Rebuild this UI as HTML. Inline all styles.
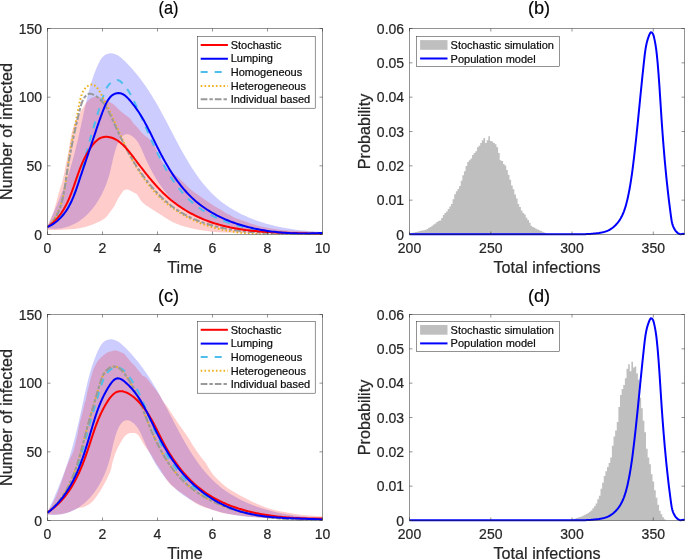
<!DOCTYPE html>
<html><head><meta charset="utf-8"><style>html,body{margin:0;padding:0;background:#fff;overflow:hidden;}svg{display:block;will-change:transform;}</style></head>
<body><svg width="685" height="559" viewBox="0 0 685 559">
<rect width="685" height="559" fill="#fff"/>
<style>text{stroke:#262626;stroke-width:0.22px;}</style>
<defs><clipPath id="ca"><rect x="47.50" y="28.50" width="275.00" height="206.00"/></clipPath>
<clipPath id="cc"><rect x="47.50" y="314.50" width="275.00" height="206.00"/></clipPath></defs>
<g clip-path="url(#ca)">
<path d="M47.58,226.05 L48.43,224.21 L49.28,222.37 L50.11,220.53 L50.95,218.68 L51.77,216.84 L52.59,214.99 L53.41,213.13 L54.22,211.28 L55.02,209.42 L55.81,207.56 L56.60,205.70 L57.38,203.84 L58.16,201.97 L58.92,200.10 L59.68,198.22 L60.42,196.35 L61.16,194.47 L61.89,192.58 L62.61,190.70 L63.32,188.81 L64.03,186.91 L64.72,185.02 L65.40,183.12 L66.07,181.21 L66.73,179.31 L67.38,177.40 L68.01,175.48 L68.64,173.56 L69.25,171.64 L69.85,169.71 L70.44,167.78 L71.02,165.85 L71.59,163.91 L72.14,161.97 L72.68,160.03 L73.22,158.08 L73.74,156.13 L74.25,154.17 L74.76,152.22 L75.25,150.26 L75.74,148.30 L76.22,146.33 L76.70,144.37 L77.17,142.40 L77.63,140.43 L78.09,138.46 L78.54,136.49 L78.99,134.52 L79.43,132.54 L79.87,130.57 L80.31,128.59 L80.74,126.62 L81.17,124.64 L81.60,122.67 L82.03,120.69 L82.46,118.71 L82.89,116.74 L83.32,114.76 L83.75,112.79 L84.19,110.82 L84.62,108.85 L85.06,106.88 L85.50,104.91 L85.94,102.94 L86.40,100.97 L86.86,99.01 L87.33,97.05 L87.81,95.09 L88.30,93.14 L88.81,91.19 L89.33,89.24 L89.87,87.29 L90.43,85.35 L91.00,83.41 L91.60,81.48 L92.22,79.55 L92.86,77.63 L93.53,75.71 L94.23,73.79 L94.95,71.88 L95.70,69.98 L96.49,68.08 L97.30,66.19 L98.15,64.31 L99.04,62.43 L100.01,60.62 L101.08,58.90 L102.29,57.34 L103.69,55.97 L105.30,54.84 L107.13,54.00 L109.07,53.48 L111.02,53.29 L112.90,53.45 L114.71,53.92 L116.46,54.66 L118.15,55.62 L119.79,56.76 L121.38,58.04 L122.93,59.43 L124.45,60.87 L125.94,62.33 L127.41,63.81 L128.84,65.30 L130.25,66.81 L131.64,68.33 L133.00,69.86 L134.34,71.41 L135.65,72.96 L136.95,74.54 L138.22,76.12 L139.47,77.72 L140.70,79.32 L141.91,80.94 L143.10,82.57 L144.27,84.21 L145.42,85.86 L146.56,87.52 L147.68,89.19 L148.79,90.87 L149.88,92.56 L150.96,94.25 L152.02,95.96 L153.07,97.67 L154.11,99.39 L155.14,101.12 L156.15,102.85 L157.16,104.60 L158.15,106.34 L159.14,108.10 L160.12,109.86 L161.09,111.63 L162.06,113.40 L163.02,115.17 L163.97,116.95 L164.92,118.73 L165.86,120.52 L166.80,122.31 L167.74,124.10 L168.68,125.89 L169.61,127.69 L170.55,129.49 L171.48,131.28 L172.42,133.08 L173.35,134.88 L174.29,136.67 L175.23,138.47 L176.18,140.26 L177.12,142.05 L178.08,143.84 L179.04,145.63 L180.00,147.41 L180.97,149.19 L181.95,150.96 L182.94,152.73 L183.93,154.50 L184.94,156.26 L185.95,158.01 L186.98,159.76 L188.01,161.50 L189.06,163.24 L190.13,164.96 L191.20,166.68 L192.29,168.39 L193.40,170.09 L194.52,171.78 L195.66,173.46 L196.81,175.12 L197.98,176.77 L199.17,178.41 L200.38,180.03 L201.61,181.63 L202.86,183.21 L204.13,184.78 L205.42,186.32 L206.74,187.84 L208.08,189.34 L209.44,190.82 L210.83,192.27 L212.24,193.70 L213.68,195.10 L215.15,196.47 L216.64,197.81 L218.17,199.12 L219.72,200.41 L221.29,201.66 L222.90,202.88 L224.53,204.07 L226.18,205.23 L227.86,206.37 L229.55,207.47 L231.27,208.54 L233.01,209.59 L234.77,210.60 L236.55,211.59 L238.34,212.55 L240.15,213.48 L241.98,214.39 L243.82,215.27 L245.67,216.12 L247.53,216.94 L249.41,217.73 L251.30,218.50 L253.19,219.25 L255.09,219.96 L257.00,220.65 L258.92,221.32 L260.84,221.96 L262.77,222.57 L264.70,223.16 L266.64,223.73 L268.58,224.27 L270.53,224.79 L272.49,225.29 L274.44,225.76 L276.41,226.22 L278.37,226.65 L280.34,227.06 L282.32,227.46 L284.30,227.83 L286.28,228.18 L288.27,228.52 L290.26,228.84 L292.26,229.14 L294.25,229.42 L296.26,229.69 L298.26,229.94 L300.27,230.18 L302.28,230.40 L304.29,230.61 L306.31,230.80 L308.33,230.98 L310.35,231.14 L312.38,231.30 L314.40,231.44 L316.43,231.57 L318.46,231.69 L320.49,231.80 L322.53,231.90 L322.50,233.72 L320.93,233.58 L319.36,233.45 L317.80,233.32 L316.23,233.21 L314.66,233.11 L313.09,233.01 L311.52,232.92 L309.95,232.84 L308.37,232.77 L306.80,232.70 L305.23,232.64 L303.65,232.59 L302.08,232.54 L300.50,232.49 L298.92,232.45 L297.35,232.42 L295.77,232.38 L294.19,232.35 L292.62,232.33 L291.04,232.30 L289.46,232.28 L287.88,232.25 L286.31,232.23 L284.73,232.21 L283.15,232.19 L281.58,232.17 L280.00,232.14 L278.42,232.12 L276.84,232.09 L275.27,232.06 L273.69,232.03 L272.12,232.00 L270.54,231.96 L268.97,231.92 L267.40,231.87 L265.82,231.82 L264.25,231.76 L262.68,231.70 L261.11,231.63 L259.54,231.55 L257.97,231.47 L256.40,231.37 L254.84,231.27 L253.27,231.17 L251.71,231.05 L250.14,230.92 L248.58,230.79 L247.02,230.64 L245.46,230.48 L243.90,230.31 L242.35,230.13 L240.79,229.94 L239.24,229.73 L237.69,229.51 L236.14,229.28 L234.59,229.04 L233.05,228.77 L231.50,228.50 L229.96,228.21 L228.42,227.90 L226.88,227.58 L225.34,227.24 L223.81,226.89 L222.28,226.51 L220.75,226.12 L219.22,225.71 L217.70,225.28 L216.17,224.84 L214.66,224.37 L213.14,223.89 L211.63,223.38 L210.13,222.86 L208.63,222.31 L207.14,221.75 L205.66,221.17 L204.18,220.57 L202.71,219.95 L201.26,219.31 L199.81,218.65 L198.37,217.98 L196.95,217.28 L195.53,216.56 L194.13,215.82 L192.74,215.07 L191.37,214.29 L190.01,213.49 L188.67,212.68 L187.34,211.84 L186.02,210.98 L184.73,210.11 L183.45,209.21 L182.19,208.29 L180.95,207.36 L179.73,206.40 L178.53,205.42 L177.35,204.43 L176.18,203.41 L175.04,202.37 L173.92,201.32 L172.81,200.24 L171.72,199.15 L170.65,198.04 L169.60,196.92 L168.56,195.77 L167.54,194.61 L166.54,193.44 L165.55,192.24 L164.58,191.04 L163.63,189.81 L162.69,188.57 L161.77,187.32 L160.86,186.05 L159.97,184.77 L159.09,183.47 L158.23,182.16 L157.38,180.84 L156.54,179.50 L155.72,178.16 L154.91,176.80 L154.11,175.43 L153.32,174.04 L152.55,172.65 L151.79,171.25 L151.04,169.83 L150.30,168.41 L149.58,166.98 L148.86,165.53 L148.16,164.08 L147.46,162.62 L146.78,161.15 L146.10,159.67 L145.44,158.19 L144.78,156.70 L144.14,155.20 L143.50,153.69 L142.86,152.19 L142.21,150.70 L141.56,149.22 L140.88,147.76 L140.19,146.34 L139.46,144.95 L138.70,143.60 L137.89,142.30 L137.03,141.06 L136.12,139.88 L135.14,138.78 L134.10,137.75 L132.98,136.81 L131.78,135.96 L130.49,135.21 L129.13,134.60 L127.75,134.22 L126.42,134.17 L125.15,134.46 L123.96,135.03 L122.85,135.81 L121.82,136.79 L120.86,137.93 L119.97,139.22 L119.14,140.62 L118.38,142.13 L117.68,143.72 L117.02,145.36 L116.42,147.03 L115.86,148.71 L115.34,150.37 L114.85,152.01 L114.40,153.63 L113.97,155.22 L113.57,156.79 L113.19,158.34 L112.83,159.87 L112.48,161.39 L112.14,162.90 L111.81,164.39 L111.48,165.87 L111.15,167.35 L110.81,168.82 L110.47,170.28 L110.11,171.75 L109.74,173.21 L109.34,174.68 L108.93,176.15 L108.49,177.62 L108.02,179.10 L107.53,180.57 L107.02,182.05 L106.48,183.53 L105.92,185.00 L105.33,186.47 L104.72,187.93 L104.09,189.39 L103.43,190.84 L102.74,192.29 L102.03,193.72 L101.30,195.14 L100.54,196.55 L99.76,197.95 L98.96,199.33 L98.13,200.69 L97.27,202.04 L96.40,203.37 L95.49,204.68 L94.57,205.97 L93.62,207.24 L92.64,208.48 L91.65,209.70 L90.62,210.89 L89.58,212.06 L88.51,213.20 L87.41,214.31 L86.29,215.39 L85.15,216.43 L83.99,217.45 L82.80,218.42 L81.58,219.37 L80.34,220.27 L79.08,221.14 L77.80,221.97 L76.49,222.76 L75.15,223.51 L73.80,224.21 L72.42,224.87 L71.01,225.48 L69.58,226.05 L68.13,226.57 L66.66,227.04 L65.16,227.46 L63.64,227.83 L62.09,228.14 L60.52,228.41 L58.93,228.61 L57.31,228.76 L55.67,228.85 L54.00,228.89 L52.32,228.86 L50.61,228.77 L48.87,228.62 L47.11,228.41 Z" fill="#0000ff" fill-opacity="0.200" stroke="none"/>
<path d="M47.50,226.00 C47.87,225.18 48.58,223.85 49.70,221.10 C50.82,218.35 52.72,214.12 54.20,209.50 C55.68,204.88 57.18,198.32 58.60,193.40 C60.02,188.48 61.50,184.73 62.70,180.00 C63.90,175.27 65.02,168.83 65.80,165.00 C66.58,161.17 66.88,159.68 67.40,157.00 C67.92,154.32 68.42,151.73 68.90,148.90 C69.38,146.07 69.70,143.15 70.30,140.00 C70.90,136.85 71.63,133.17 72.50,130.00 C73.37,126.83 74.50,123.42 75.50,121.00 C76.50,118.58 77.72,116.92 78.50,115.50 C79.28,114.08 79.43,113.82 80.20,112.50 C80.97,111.18 82.00,109.35 83.10,107.60 C84.20,105.85 85.57,103.52 86.80,102.00 C88.03,100.48 89.28,99.35 90.50,98.50 C91.72,97.65 92.85,97.18 94.10,96.90 C95.35,96.62 97.02,96.75 98.00,96.80 C98.98,96.85 98.95,96.78 100.00,97.20 C101.05,97.62 102.87,98.58 104.30,99.30 C105.73,100.02 106.93,100.55 108.60,101.50 C110.27,102.45 112.63,103.70 114.30,105.00 C115.97,106.30 117.17,107.98 118.60,109.30 C120.03,110.62 121.58,111.82 122.90,112.90 C124.22,113.98 125.30,114.85 126.50,115.80 C127.70,116.75 128.92,117.30 130.10,118.60 C131.28,119.90 132.42,122.17 133.60,123.60 C134.78,125.03 136.02,125.88 137.20,127.20 C138.38,128.52 139.40,130.07 140.70,131.50 C142.00,132.93 143.68,134.62 145.00,135.80 C146.32,136.98 147.40,137.53 148.60,138.60 C149.80,139.67 151.13,140.77 152.20,142.20 C153.27,143.63 154.28,145.90 155.00,147.20 C155.72,148.50 155.67,148.20 156.50,150.00 C157.33,151.80 158.58,155.33 160.00,158.00 C161.42,160.67 163.33,163.83 165.00,166.00 C166.67,168.17 167.97,169.27 170.00,171.00 C172.03,172.73 174.87,174.40 177.20,176.40 C179.53,178.40 181.87,180.92 184.00,183.00 C186.13,185.08 187.80,187.02 190.00,188.90 C192.20,190.78 194.82,192.57 197.20,194.30 C199.58,196.03 201.92,197.63 204.30,199.30 C206.68,200.97 209.12,202.75 211.50,204.30 C213.88,205.85 216.22,207.17 218.60,208.60 C220.98,210.03 223.90,211.83 225.80,212.90 C227.70,213.97 228.42,214.13 230.00,215.00 C231.58,215.87 233.20,217.17 235.30,218.10 C237.40,219.03 240.17,219.75 242.60,220.60 C245.03,221.45 247.47,222.40 249.90,223.20 C252.33,224.00 254.77,224.73 257.20,225.40 C259.63,226.07 261.03,226.53 264.50,227.20 C267.97,227.87 273.75,228.83 278.00,229.40 C282.25,229.97 285.50,230.23 290.00,230.60 C294.50,230.97 299.58,231.30 305.00,231.60 C310.42,231.90 319.58,232.27 322.50,232.40 L322.50,234.00 C317.08,234.00 298.75,234.08 290.00,234.00 C281.25,233.92 276.67,233.63 270.00,233.50 C263.33,233.37 256.67,233.35 250.00,233.20 C243.33,233.05 235.83,232.82 230.00,232.60 C224.17,232.38 219.12,232.22 215.00,231.90 C210.88,231.58 208.27,231.10 205.30,230.70 C202.33,230.30 199.88,229.98 197.20,229.50 C194.52,229.02 191.88,228.48 189.20,227.80 C186.52,227.12 183.78,226.33 181.10,225.40 C178.42,224.47 175.78,223.53 173.10,222.20 C170.42,220.87 167.52,218.93 165.00,217.40 C162.48,215.87 160.50,214.57 158.00,213.00 C155.50,211.43 152.67,209.83 150.00,208.00 C147.33,206.17 144.17,204.23 142.00,202.00 C139.83,199.77 138.47,196.22 137.00,194.60 C135.53,192.98 134.37,192.98 133.20,192.30 C132.03,191.62 131.03,190.97 130.00,190.50 C128.97,190.03 128.00,189.53 127.00,189.50 C126.00,189.47 125.03,189.45 124.00,190.30 C122.97,191.15 121.83,193.12 120.80,194.60 C119.77,196.08 118.82,197.40 117.80,199.20 C116.78,201.00 115.73,203.60 114.70,205.40 C113.67,207.20 113.13,207.95 111.60,210.00 C110.07,212.05 107.80,215.65 105.50,217.70 C103.20,219.75 101.13,220.77 97.80,222.30 C94.47,223.83 90.13,225.75 85.50,226.90 C80.87,228.05 75.08,228.68 70.00,229.20 C64.92,229.72 58.75,229.87 55.00,230.00 C51.25,230.13 48.75,230.00 47.50,230.00 Z" fill="#ff0000" fill-opacity="0.200" stroke="none"/>
</g>
<g clip-path="url(#ca)" fill="none" stroke-linejoin="round">
<path d="M47.59,227.14 L49.34,226.17 L51.02,225.14 L52.63,224.07 L54.18,222.94 L55.68,221.77 L57.11,220.56 L58.48,219.30 L59.80,218.00 L61.07,216.65 L62.28,215.27 L63.45,213.86 L64.57,212.40 L65.64,210.91 L66.66,209.39 L67.64,207.84 L68.58,206.26 L69.49,204.65 L70.35,203.01 L71.18,201.35 L71.98,199.66 L72.74,197.95 L73.47,196.22 L74.17,194.47 L74.85,192.71 L75.50,190.93 L76.13,189.13 L76.74,187.32 L77.33,185.50 L77.90,183.66 L78.45,181.82 L78.99,179.98 L79.52,178.12 L80.03,176.27 L80.54,174.41 L81.04,172.54 L81.53,170.68 L82.02,168.83 L82.51,166.97 L83.00,165.12 L83.49,163.28 L83.98,161.44 L84.47,159.61 L84.97,157.78 L85.46,155.96 L85.96,154.14 L86.46,152.32 L86.96,150.51 L87.46,148.71 L87.96,146.90 L88.47,145.10 L88.97,143.30 L89.48,141.51 L89.99,139.71 L90.50,137.92 L91.02,136.13 L91.54,134.34 L92.06,132.55 L92.58,130.76 L93.10,128.98 L93.63,127.19 L94.16,125.40 L94.69,123.61 L95.23,121.82 L95.77,120.03 L96.31,118.24 L96.85,116.44 L97.40,114.64 L97.95,112.84 L98.50,111.04 L99.06,109.24 L99.62,107.43 L100.19,105.62 L100.75,103.80 L101.32,101.98 L101.90,100.15 L102.48,98.32 L103.06,96.49 L103.66,94.66 L104.31,92.85 L105.02,91.08 L105.81,89.36 L106.71,87.71 L107.74,86.14 L108.92,84.66 L110.27,83.30 L111.82,82.06 L113.56,81.00 L115.41,80.25 L117.24,80.00 L118.95,80.41 L120.51,81.41 L121.95,82.74 L123.28,84.18 L124.54,85.64 L125.72,87.11 L126.82,88.60 L127.87,90.11 L128.86,91.63 L129.80,93.17 L130.69,94.73 L131.56,96.30 L132.39,97.88 L133.20,99.48 L133.99,101.10 L134.77,102.72 L135.55,104.37 L136.33,106.02 L137.10,107.69 L137.87,109.37 L138.64,111.06 L139.40,112.76 L140.17,114.47 L140.93,116.19 L141.69,117.91 L142.46,119.65 L143.22,121.39 L143.98,123.14 L144.75,124.89 L145.51,126.65 L146.28,128.41 L147.05,130.17 L147.83,131.94 L148.60,133.71 L149.39,135.48 L150.17,137.26 L150.96,139.03 L151.76,140.80 L152.56,142.57 L153.37,144.34 L154.18,146.10 L155.01,147.86 L155.84,149.62 L156.68,151.37 L157.52,153.12 L158.38,154.86 L159.24,156.60 L160.12,158.32 L161.00,160.04 L161.90,161.75 L162.81,163.45 L163.73,165.14 L164.66,166.82 L165.60,168.49 L166.56,170.14 L167.53,171.79 L168.51,173.41 L169.51,175.03 L170.53,176.63 L171.55,178.21 L172.60,179.78 L173.66,181.33 L174.74,182.86 L175.83,184.38 L176.95,185.87 L178.08,187.35 L179.23,188.80 L180.40,190.23 L181.58,191.65 L182.79,193.04 L184.02,194.40 L185.27,195.74 L186.54,197.06 L187.83,198.35 L189.15,199.62 L190.48,200.86 L191.84,202.07 L193.23,203.26 L194.64,204.41 L196.07,205.54 L197.52,206.64 L198.99,207.72 L200.49,208.76 L202.01,209.78 L203.55,210.77 L205.10,211.74 L206.68,212.68 L208.28,213.60 L209.89,214.49 L211.53,215.35 L213.18,216.19 L214.84,217.01 L216.53,217.80 L218.22,218.57 L219.94,219.32 L221.67,220.04 L223.41,220.74 L225.17,221.42 L226.94,222.07 L228.72,222.70 L230.51,223.32 L232.32,223.91 L234.13,224.48 L235.96,225.02 L237.80,225.55 L239.65,226.06 L241.50,226.55 L243.37,227.02 L245.24,227.47 L247.12,227.90 L249.00,228.31 L250.89,228.71 L252.79,229.08 L254.69,229.44 L256.60,229.79 L258.51,230.11 L260.43,230.42 L262.35,230.71 L264.27,230.99 L266.19,231.25 L268.12,231.49 L270.04,231.72 L271.97,231.94 L273.90,232.14 L275.82,232.32 L277.75,232.49 L279.67,232.65 L281.59,232.80 L283.51,232.93 L285.42,233.05 L287.33,233.16 L289.24,233.25 L291.14,233.34 L293.04,233.41 L294.93,233.47 L296.81,233.52 L298.69,233.56 L300.56,233.59 L302.42,233.61 L304.27,233.62 L306.12,233.62 L307.95,233.61 L309.78,233.59 L311.59,233.57 L313.39,233.53 L315.19,233.49 L316.96,233.44 L318.73,233.39 L320.48,233.32 L322.22,233.25" stroke="#4dbeee" stroke-width="2.00" stroke-dasharray="7 7"/>
<path d="M47.80,227.08 L49.11,225.66 L50.36,224.19 L51.54,222.70 L52.66,221.16 L53.72,219.60 L54.72,218.00 L55.67,216.38 L56.56,214.72 L57.40,213.04 L58.18,211.34 L58.92,209.60 L59.62,207.85 L60.27,206.07 L60.88,204.28 L61.45,202.46 L61.99,200.62 L62.49,198.77 L62.95,196.91 L63.39,195.03 L63.80,193.13 L64.19,191.23 L64.55,189.32 L64.89,187.39 L65.21,185.47 L65.51,183.53 L65.80,181.59 L66.08,179.65 L66.35,177.70 L66.61,175.76 L66.86,173.81 L67.11,171.87 L67.36,169.93 L67.60,168.00 L67.86,166.07 L68.11,164.15 L68.38,162.24 L68.65,160.34 L68.93,158.44 L69.23,156.56 L69.53,154.68 L69.83,152.81 L70.15,150.95 L70.47,149.09 L70.80,147.24 L71.14,145.39 L71.48,143.54 L71.83,141.69 L72.18,139.84 L72.54,138.00 L72.91,136.15 L73.27,134.30 L73.64,132.44 L74.02,130.58 L74.39,128.72 L74.77,126.85 L75.15,124.98 L75.53,123.10 L75.92,121.21 L76.30,119.31 L76.68,117.40 L77.07,115.48 L77.45,113.54 L77.83,111.60 L78.21,109.64 L78.59,107.66 L78.97,105.68 L79.35,103.68 L79.75,101.68 L80.19,99.71 L80.68,97.77 L81.24,95.89 L81.89,94.07 L82.65,92.34 L83.52,90.70 L84.54,89.18 L85.71,87.79 L87.05,86.56 L88.52,85.54 L90.04,84.83 L91.56,84.54 L93.02,84.72 L94.40,85.33 L95.72,86.32 L96.98,87.63 L98.17,89.19 L99.32,90.94 L100.42,92.83 L101.47,94.79 L102.48,96.76 L103.45,98.69 L104.39,100.56 L105.31,102.37 L106.19,104.13 L107.06,105.86 L107.90,107.56 L108.73,109.24 L109.54,110.91 L110.34,112.58 L111.13,114.25 L111.92,115.93 L112.70,117.62 L113.48,119.33 L114.25,121.03 L115.02,122.75 L115.79,124.47 L116.56,126.20 L117.33,127.93 L118.10,129.67 L118.87,131.41 L119.64,133.16 L120.42,134.90 L121.19,136.65 L121.98,138.40 L122.77,140.15 L123.56,141.90 L124.36,143.65 L125.17,145.39 L125.99,147.14 L126.82,148.88 L127.66,150.62 L128.51,152.35 L129.37,154.08 L130.24,155.80 L131.13,157.51 L132.03,159.22 L132.95,160.92 L133.88,162.61 L134.83,164.29 L135.80,165.97 L136.78,167.63 L137.79,169.28 L138.81,170.92 L139.85,172.54 L140.91,174.16 L141.98,175.76 L143.08,177.34 L144.19,178.92 L145.33,180.47 L146.48,182.01 L147.65,183.54 L148.84,185.05 L150.05,186.54 L151.29,188.01 L152.54,189.47 L153.81,190.91 L155.10,192.33 L156.41,193.72 L157.74,195.10 L159.09,196.46 L160.46,197.79 L161.86,199.10 L163.27,200.39 L164.70,201.66 L166.16,202.91 L167.64,204.12 L169.13,205.32 L170.65,206.49 L172.19,207.64 L173.74,208.76 L175.31,209.85 L176.90,210.93 L178.51,211.97 L180.14,213.00 L181.78,213.99 L183.43,214.97 L185.10,215.91 L186.79,216.83 L188.49,217.73 L190.20,218.60 L191.92,219.44 L193.66,220.26 L195.41,221.05 L197.17,221.82 L198.94,222.56 L200.72,223.27 L202.51,223.96 L204.30,224.62 L206.11,225.25 L207.92,225.86 L209.75,226.44 L211.58,226.99 L213.41,227.52 L215.26,228.03 L217.11,228.51 L218.96,228.97 L220.82,229.41 L222.69,229.82 L224.57,230.21 L226.45,230.58 L228.33,230.93 L230.22,231.26 L232.12,231.57 L234.02,231.86 L235.92,232.13 L237.83,232.39 L239.74,232.62 L241.66,232.84 L243.58,233.05 L245.50,233.24 L247.43,233.41 L249.36,233.57 L251.29,233.71 L253.22,233.84 L255.16,233.96 L257.10,234.06 L259.04,234.15 L260.98,234.23 L262.92,234.30 L264.86,234.36 L266.80,234.41 L268.75,234.45 L270.69,234.48 L272.64,234.51 L274.58,234.52 L276.53,234.53 L278.47,234.53 L280.41,234.53 L282.35,234.52 L284.29,234.50 L286.23,234.48 L288.17,234.46 L290.10,234.43 L292.03,234.40 L293.96,234.37 L295.89,234.34 L297.82,234.30 L299.74,234.26 L301.65,234.23 L303.57,234.19 L305.48,234.16 L307.38,234.13 L309.29,234.09 L311.18,234.07 L313.08,234.04 L314.96,234.02 L316.85,234.00 L318.72,233.99 L320.59,233.98 L322.46,233.98" stroke="#edb120" stroke-width="2.00" stroke-dasharray="1.6 2.2"/>
<path d="M47.59,226.95 L48.99,225.68 L50.31,224.37 L51.56,223.00 L52.72,221.59 L53.81,220.14 L54.83,218.64 L55.78,217.10 L56.67,215.53 L57.50,213.92 L58.27,212.28 L58.99,210.60 L59.65,208.90 L60.27,207.17 L60.84,205.42 L61.37,203.65 L61.86,201.85 L62.31,200.04 L62.74,198.22 L63.13,196.38 L63.50,194.52 L63.85,192.67 L64.17,190.80 L64.48,188.93 L64.78,187.06 L65.07,185.19 L65.35,183.32 L65.63,181.46 L65.91,179.60 L66.19,177.75 L66.47,175.91 L66.76,174.08 L67.05,172.25 L67.34,170.44 L67.64,168.62 L67.94,166.82 L68.24,165.02 L68.55,163.22 L68.86,161.43 L69.17,159.64 L69.49,157.86 L69.81,156.07 L70.14,154.29 L70.47,152.51 L70.81,150.73 L71.15,148.95 L71.49,147.17 L71.84,145.39 L72.20,143.61 L72.56,141.83 L72.92,140.04 L73.30,138.25 L73.67,136.46 L74.05,134.66 L74.44,132.86 L74.84,131.05 L75.23,129.24 L75.64,127.42 L76.05,125.60 L76.47,123.76 L76.89,121.92 L77.32,120.07 L77.76,118.21 L78.20,116.34 L78.66,114.46 L79.11,112.57 L79.58,110.67 L80.05,108.76 L80.55,106.86 L81.09,104.98 L81.70,103.15 L82.38,101.38 L83.17,99.69 L84.07,98.10 L85.11,96.63 L86.30,95.31 L87.63,94.29 L89.07,93.75 L90.59,93.73 L92.15,94.10 L93.71,94.76 L95.21,95.59 L96.64,96.53 L98.01,97.57 L99.31,98.70 L100.56,99.91 L101.75,101.21 L102.88,102.58 L103.97,104.02 L105.02,105.53 L106.02,107.09 L106.99,108.69 L107.92,110.34 L108.82,112.03 L109.69,113.75 L110.54,115.49 L111.38,117.25 L112.19,119.02 L113.00,120.80 L113.79,122.58 L114.58,124.34 L115.37,126.10 L116.16,127.84 L116.95,129.57 L117.73,131.28 L118.53,132.99 L119.32,134.68 L120.11,136.36 L120.91,138.02 L121.72,139.68 L122.53,141.32 L123.34,142.96 L124.16,144.59 L124.99,146.20 L125.83,147.81 L126.67,149.41 L127.52,151.00 L128.38,152.58 L129.26,154.16 L130.14,155.73 L131.04,157.29 L131.95,158.85 L132.87,160.40 L133.80,161.95 L134.75,163.49 L135.72,165.03 L136.70,166.56 L137.69,168.09 L138.71,169.62 L139.74,171.14 L140.79,172.67 L141.85,174.18 L142.94,175.70 L144.04,177.20 L145.16,178.70 L146.30,180.19 L147.45,181.68 L148.63,183.15 L149.82,184.61 L151.02,186.06 L152.25,187.49 L153.49,188.91 L154.74,190.32 L156.02,191.71 L157.31,193.08 L158.62,194.43 L159.94,195.76 L161.28,197.08 L162.64,198.37 L164.01,199.64 L165.40,200.88 L166.80,202.10 L168.23,203.30 L169.66,204.47 L171.11,205.61 L172.58,206.72 L174.07,207.81 L175.57,208.86 L177.08,209.89 L178.61,210.88 L180.15,211.85 L181.71,212.78 L183.28,213.70 L184.86,214.58 L186.46,215.43 L188.07,216.26 L189.70,217.07 L191.33,217.85 L192.98,218.60 L194.64,219.33 L196.31,220.03 L198.00,220.71 L199.69,221.37 L201.39,222.00 L203.11,222.61 L204.83,223.20 L206.57,223.76 L208.31,224.31 L210.06,224.83 L211.82,225.33 L213.59,225.82 L215.37,226.28 L217.16,226.72 L218.95,227.15 L220.75,227.56 L222.56,227.94 L224.37,228.31 L226.20,228.67 L228.02,229.01 L229.86,229.33 L231.69,229.63 L233.54,229.92 L235.39,230.19 L237.24,230.45 L239.10,230.70 L240.96,230.93 L242.82,231.15 L244.69,231.35 L246.57,231.54 L248.44,231.73 L250.32,231.89 L252.20,232.05 L254.08,232.20 L255.96,232.33 L257.85,232.46 L259.73,232.58 L261.62,232.68 L263.51,232.78 L265.39,232.87 L267.28,232.96 L269.17,233.03 L271.05,233.10 L272.94,233.16 L274.82,233.22 L276.70,233.26 L278.58,233.31 L280.46,233.35 L282.33,233.38 L284.21,233.41 L286.07,233.44 L287.94,233.46 L289.80,233.49 L291.66,233.50 L293.51,233.52 L295.36,233.54 L297.21,233.55 L299.05,233.56 L300.88,233.58 L302.71,233.59 L304.53,233.60 L306.34,233.62 L308.15,233.63 L309.95,233.65 L311.75,233.67 L313.54,233.70 L315.31,233.72 L317.08,233.75 L318.85,233.79 L320.60,233.82 L322.34,233.87" stroke="#999999" stroke-width="2.00" stroke-dasharray="6.7 2 3.4 2"/>
<path d="M47.60,226.95 L48.91,226.01 L50.18,225.04 L51.40,224.05 L52.58,223.03 L53.71,221.99 L54.81,220.92 L55.87,219.83 L56.89,218.72 L57.87,217.59 L58.82,216.43 L59.73,215.26 L60.62,214.07 L61.47,212.86 L62.29,211.63 L63.08,210.38 L63.85,209.12 L64.58,207.84 L65.30,206.54 L65.99,205.24 L66.66,203.91 L67.31,202.58 L67.94,201.23 L68.55,199.87 L69.15,198.50 L69.73,197.12 L70.29,195.73 L70.84,194.33 L71.39,192.92 L71.92,191.50 L72.44,190.08 L72.96,188.65 L73.46,187.22 L73.97,185.78 L74.47,184.34 L74.97,182.89 L75.47,181.45 L75.96,180.00 L76.46,178.54 L76.97,177.09 L77.47,175.64 L77.99,174.19 L78.51,172.74 L79.03,171.29 L79.57,169.85 L80.12,168.41 L80.68,166.97 L81.26,165.54 L81.84,164.12 L82.45,162.70 L83.07,161.29 L83.72,159.89 L84.38,158.49 L85.06,157.11 L85.77,155.73 L86.50,154.37 L87.26,153.01 L88.04,151.67 L88.85,150.34 L89.69,149.03 L90.56,147.73 L91.46,146.45 L92.40,145.19 L93.37,143.97 L94.38,142.81 L95.43,141.71 L96.52,140.69 L97.66,139.76 L98.84,138.94 L100.06,138.24 L101.34,137.67 L102.67,137.25 L104.04,136.98 L105.45,136.85 L106.87,136.86 L108.30,136.98 L109.72,137.22 L111.11,137.56 L112.46,137.98 L113.77,138.50 L115.06,139.10 L116.31,139.77 L117.54,140.52 L118.73,141.33 L119.90,142.21 L121.05,143.15 L122.17,144.14 L123.27,145.18 L124.35,146.26 L125.41,147.39 L126.45,148.54 L127.48,149.73 L128.50,150.95 L129.50,152.18 L130.49,153.43 L131.47,154.69 L132.44,155.96 L133.41,157.23 L134.38,158.50 L135.34,159.76 L136.29,161.02 L137.25,162.27 L138.20,163.52 L139.15,164.77 L140.09,166.00 L141.04,167.24 L141.99,168.46 L142.93,169.68 L143.88,170.90 L144.83,172.11 L145.78,173.31 L146.73,174.50 L147.68,175.69 L148.64,176.86 L149.60,178.03 L150.57,179.20 L151.54,180.35 L152.51,181.50 L153.49,182.63 L154.48,183.76 L155.47,184.88 L156.47,185.99 L157.48,187.09 L158.49,188.18 L159.52,189.26 L160.55,190.33 L161.59,191.39 L162.64,192.43 L163.71,193.47 L164.78,194.50 L165.86,195.51 L166.96,196.51 L168.07,197.50 L169.19,198.48 L170.32,199.44 L171.47,200.40 L172.64,201.34 L173.81,202.26 L175.01,203.17 L176.21,204.07 L177.44,204.96 L178.67,205.83 L179.92,206.69 L181.18,207.53 L182.45,208.36 L183.74,209.18 L185.03,209.98 L186.34,210.76 L187.66,211.53 L188.98,212.29 L190.32,213.03 L191.67,213.75 L193.02,214.46 L194.39,215.16 L195.76,215.84 L197.14,216.50 L198.52,217.15 L199.92,217.78 L201.32,218.39 L202.72,218.99 L204.13,219.57 L205.55,220.13 L206.96,220.68 L208.39,221.21 L209.82,221.73 L211.25,222.23 L212.69,222.71 L214.13,223.18 L215.57,223.63 L217.02,224.07 L218.47,224.49 L219.93,224.90 L221.39,225.30 L222.85,225.68 L224.32,226.04 L225.79,226.40 L227.26,226.74 L228.74,227.07 L230.22,227.38 L231.70,227.69 L233.18,227.98 L234.67,228.26 L236.16,228.53 L237.65,228.79 L239.15,229.03 L240.65,229.27 L242.15,229.50 L243.65,229.71 L245.15,229.92 L246.66,230.12 L248.17,230.30 L249.68,230.48 L251.19,230.65 L252.70,230.81 L254.21,230.97 L255.73,231.11 L257.25,231.25 L258.77,231.38 L260.29,231.51 L261.81,231.63 L263.33,231.74 L264.85,231.84 L266.37,231.94 L267.90,232.03 L269.42,232.12 L270.95,232.21 L272.47,232.28 L274.00,232.36 L275.52,232.43 L277.05,232.49 L278.57,232.55 L280.10,232.61 L281.63,232.67 L283.15,232.72 L284.68,232.77 L286.20,232.82 L287.72,232.86 L289.25,232.90 L290.77,232.95 L292.29,232.99 L293.81,233.03 L295.33,233.06 L296.85,233.10 L298.37,233.14 L299.88,233.18 L301.40,233.22 L302.91,233.26 L304.42,233.30 L305.93,233.34 L307.44,233.38 L308.95,233.43 L310.45,233.47 L311.95,233.52 L313.45,233.57 L314.95,233.63 L316.45,233.69 L317.94,233.75 L319.43,233.81 L320.92,233.88 L322.40,233.95" stroke="#ff0000" stroke-width="2.00"/>
<path d="M47.43,227.05 L49.17,226.20 L50.84,225.30 L52.44,224.35 L53.98,223.35 L55.45,222.29 L56.86,221.19 L58.21,220.04 L59.49,218.85 L60.73,217.61 L61.91,216.33 L63.04,215.02 L64.12,213.66 L65.15,212.27 L66.14,210.85 L67.09,209.40 L67.99,207.91 L68.86,206.40 L69.69,204.85 L70.49,203.29 L71.26,201.70 L72.00,200.09 L72.72,198.46 L73.41,196.81 L74.08,195.15 L74.73,193.47 L75.36,191.78 L75.97,190.08 L76.58,188.37 L77.17,186.66 L77.76,184.94 L78.33,183.21 L78.91,181.49 L79.48,179.76 L80.06,178.04 L80.63,176.31 L81.21,174.59 L81.78,172.88 L82.35,171.16 L82.93,169.45 L83.50,167.74 L84.08,166.03 L84.65,164.32 L85.23,162.62 L85.80,160.92 L86.37,159.22 L86.94,157.53 L87.51,155.84 L88.08,154.15 L88.65,152.46 L89.22,150.78 L89.78,149.11 L90.35,147.43 L90.91,145.76 L91.47,144.10 L92.03,142.44 L92.58,140.78 L93.14,139.13 L93.69,137.48 L94.24,135.84 L94.79,134.20 L95.34,132.56 L95.88,130.93 L96.43,129.30 L96.98,127.66 L97.53,126.02 L98.10,124.36 L98.67,122.70 L99.25,121.01 L99.85,119.31 L100.47,117.58 L101.10,115.83 L101.76,114.05 L102.43,112.24 L103.14,110.40 L103.87,108.54 L104.64,106.69 L105.45,104.86 L106.31,103.10 L107.22,101.40 L108.19,99.81 L109.23,98.33 L110.34,96.99 L111.52,95.82 L112.79,94.84 L114.14,94.06 L115.56,93.50 L117.02,93.16 L118.52,93.06 L120.02,93.20 L121.50,93.58 L122.95,94.21 L124.36,95.08 L125.71,96.14 L127.03,97.35 L128.31,98.66 L129.55,100.04 L130.75,101.43 L131.92,102.84 L133.06,104.26 L134.17,105.69 L135.25,107.13 L136.30,108.59 L137.32,110.06 L138.32,111.53 L139.29,113.02 L140.24,114.51 L141.17,116.02 L142.08,117.53 L142.98,119.05 L143.85,120.58 L144.71,122.12 L145.56,123.67 L146.39,125.22 L147.21,126.78 L148.02,128.34 L148.83,129.91 L149.62,131.49 L150.41,133.07 L151.20,134.65 L151.98,136.24 L152.76,137.83 L153.54,139.43 L154.32,141.03 L155.11,142.63 L155.90,144.23 L156.69,145.84 L157.49,147.44 L158.30,149.05 L159.12,150.66 L159.94,152.27 L160.78,153.87 L161.63,155.48 L162.49,157.08 L163.36,158.68 L164.24,160.28 L165.14,161.87 L166.04,163.45 L166.96,165.03 L167.89,166.60 L168.84,168.17 L169.79,169.73 L170.76,171.27 L171.75,172.81 L172.74,174.33 L173.75,175.85 L174.78,177.35 L175.82,178.84 L176.88,180.31 L177.95,181.77 L179.03,183.22 L180.13,184.65 L181.25,186.06 L182.38,187.45 L183.53,188.83 L184.70,190.18 L185.89,191.52 L187.09,192.83 L188.31,194.13 L189.54,195.40 L190.80,196.65 L192.07,197.87 L193.36,199.07 L194.67,200.25 L196.00,201.40 L197.35,202.52 L198.71,203.62 L200.09,204.70 L201.49,205.76 L202.90,206.79 L204.33,207.80 L205.78,208.78 L207.24,209.74 L208.72,210.68 L210.21,211.60 L211.71,212.49 L213.23,213.37 L214.76,214.22 L216.31,215.05 L217.87,215.85 L219.44,216.64 L221.02,217.41 L222.62,218.15 L224.23,218.87 L225.85,219.58 L227.48,220.26 L229.12,220.93 L230.77,221.57 L232.43,222.19 L234.10,222.80 L235.78,223.38 L237.47,223.95 L239.17,224.50 L240.87,225.03 L242.58,225.54 L244.31,226.03 L246.03,226.51 L247.77,226.96 L249.51,227.40 L251.26,227.83 L253.01,228.23 L254.77,228.62 L256.54,228.99 L258.30,229.35 L260.08,229.69 L261.86,230.01 L263.64,230.32 L265.42,230.61 L267.21,230.89 L269.00,231.15 L270.80,231.39 L272.59,231.62 L274.39,231.84 L276.19,232.04 L277.99,232.23 L279.79,232.40 L281.59,232.56 L283.39,232.71 L285.19,232.84 L286.99,232.96 L288.79,233.07 L290.59,233.16 L292.39,233.24 L294.18,233.31 L295.97,233.37 L297.76,233.41 L299.55,233.45 L301.33,233.47 L303.11,233.48 L304.89,233.48 L306.66,233.46 L308.43,233.44 L310.19,233.41 L311.94,233.36 L313.69,233.31 L315.44,233.25 L317.18,233.17 L318.91,233.09 L320.63,233.00 L322.35,232.90" stroke="#0000ff" stroke-width="2.00"/>
</g>
<g clip-path="url(#cc)">
<path d="M47.58,512.05 L48.43,510.21 L49.28,508.37 L50.11,506.53 L50.95,504.68 L51.77,502.84 L52.59,500.99 L53.41,499.13 L54.22,497.28 L55.02,495.42 L55.81,493.56 L56.60,491.70 L57.38,489.84 L58.16,487.97 L58.92,486.10 L59.68,484.22 L60.42,482.35 L61.16,480.47 L61.89,478.58 L62.61,476.70 L63.32,474.81 L64.03,472.91 L64.72,471.02 L65.40,469.12 L66.07,467.21 L66.73,465.31 L67.38,463.40 L68.01,461.48 L68.64,459.56 L69.25,457.64 L69.85,455.71 L70.44,453.78 L71.02,451.85 L71.59,449.91 L72.14,447.97 L72.68,446.03 L73.22,444.08 L73.74,442.13 L74.25,440.17 L74.76,438.22 L75.25,436.26 L75.74,434.30 L76.22,432.33 L76.70,430.37 L77.17,428.40 L77.63,426.43 L78.09,424.46 L78.54,422.49 L78.99,420.52 L79.43,418.54 L79.87,416.57 L80.31,414.59 L80.74,412.62 L81.17,410.64 L81.60,408.67 L82.03,406.69 L82.46,404.71 L82.89,402.74 L83.32,400.76 L83.75,398.79 L84.19,396.82 L84.62,394.85 L85.06,392.88 L85.50,390.91 L85.94,388.94 L86.40,386.97 L86.86,385.01 L87.33,383.05 L87.81,381.09 L88.30,379.14 L88.81,377.19 L89.33,375.24 L89.87,373.29 L90.43,371.35 L91.00,369.41 L91.60,367.48 L92.22,365.55 L92.86,363.63 L93.53,361.71 L94.23,359.79 L94.95,357.88 L95.70,355.98 L96.49,354.08 L97.30,352.19 L98.15,350.31 L99.04,348.43 L100.01,346.62 L101.08,344.90 L102.29,343.34 L103.69,341.97 L105.30,340.84 L107.13,340.00 L109.07,339.48 L111.02,339.29 L112.90,339.45 L114.71,339.92 L116.46,340.66 L118.15,341.62 L119.79,342.76 L121.38,344.04 L122.93,345.43 L124.45,346.87 L125.94,348.33 L127.41,349.81 L128.84,351.30 L130.25,352.81 L131.64,354.33 L133.00,355.86 L134.34,357.41 L135.65,358.96 L136.95,360.54 L138.22,362.12 L139.47,363.72 L140.70,365.32 L141.91,366.94 L143.10,368.57 L144.27,370.21 L145.42,371.86 L146.56,373.52 L147.68,375.19 L148.79,376.87 L149.88,378.56 L150.96,380.25 L152.02,381.96 L153.07,383.67 L154.11,385.39 L155.14,387.12 L156.15,388.85 L157.16,390.60 L158.15,392.34 L159.14,394.10 L160.12,395.86 L161.09,397.63 L162.06,399.40 L163.02,401.17 L163.97,402.95 L164.92,404.73 L165.86,406.52 L166.80,408.31 L167.74,410.10 L168.68,411.89 L169.61,413.69 L170.55,415.49 L171.48,417.28 L172.42,419.08 L173.35,420.88 L174.29,422.67 L175.23,424.47 L176.18,426.26 L177.12,428.05 L178.08,429.84 L179.04,431.63 L180.00,433.41 L180.97,435.19 L181.95,436.96 L182.94,438.73 L183.93,440.50 L184.94,442.26 L185.95,444.01 L186.98,445.76 L188.01,447.50 L189.06,449.24 L190.13,450.96 L191.20,452.68 L192.29,454.39 L193.40,456.09 L194.52,457.78 L195.66,459.46 L196.81,461.12 L197.98,462.77 L199.17,464.41 L200.38,466.03 L201.61,467.63 L202.86,469.21 L204.13,470.78 L205.42,472.32 L206.74,473.84 L208.08,475.34 L209.44,476.82 L210.83,478.27 L212.24,479.70 L213.68,481.10 L215.15,482.47 L216.64,483.81 L218.17,485.12 L219.72,486.41 L221.29,487.66 L222.90,488.88 L224.53,490.07 L226.18,491.23 L227.86,492.37 L229.55,493.47 L231.27,494.54 L233.01,495.59 L234.77,496.60 L236.55,497.59 L238.34,498.55 L240.15,499.48 L241.98,500.39 L243.82,501.27 L245.67,502.12 L247.53,502.94 L249.41,503.73 L251.30,504.50 L253.19,505.25 L255.09,505.96 L257.00,506.65 L258.92,507.32 L260.84,507.96 L262.77,508.57 L264.70,509.16 L266.64,509.73 L268.58,510.27 L270.53,510.79 L272.49,511.29 L274.44,511.76 L276.41,512.22 L278.37,512.65 L280.34,513.06 L282.32,513.46 L284.30,513.83 L286.28,514.18 L288.27,514.52 L290.26,514.84 L292.26,515.14 L294.25,515.42 L296.26,515.69 L298.26,515.94 L300.27,516.18 L302.28,516.40 L304.29,516.61 L306.31,516.80 L308.33,516.98 L310.35,517.14 L312.38,517.30 L314.40,517.44 L316.43,517.57 L318.46,517.69 L320.49,517.80 L322.53,517.90 L322.50,519.72 L320.93,519.58 L319.36,519.45 L317.80,519.32 L316.23,519.21 L314.66,519.11 L313.09,519.01 L311.52,518.92 L309.95,518.84 L308.37,518.77 L306.80,518.70 L305.23,518.64 L303.65,518.59 L302.08,518.54 L300.50,518.49 L298.92,518.45 L297.35,518.42 L295.77,518.38 L294.19,518.35 L292.62,518.33 L291.04,518.30 L289.46,518.28 L287.88,518.25 L286.31,518.23 L284.73,518.21 L283.15,518.19 L281.58,518.17 L280.00,518.14 L278.42,518.12 L276.84,518.09 L275.27,518.06 L273.69,518.03 L272.12,518.00 L270.54,517.96 L268.97,517.92 L267.40,517.87 L265.82,517.82 L264.25,517.76 L262.68,517.70 L261.11,517.63 L259.54,517.55 L257.97,517.47 L256.40,517.37 L254.84,517.27 L253.27,517.17 L251.71,517.05 L250.14,516.92 L248.58,516.79 L247.02,516.64 L245.46,516.48 L243.90,516.31 L242.35,516.13 L240.79,515.94 L239.24,515.73 L237.69,515.51 L236.14,515.28 L234.59,515.04 L233.05,514.77 L231.50,514.50 L229.96,514.21 L228.42,513.90 L226.88,513.58 L225.34,513.24 L223.81,512.89 L222.28,512.51 L220.75,512.12 L219.22,511.71 L217.70,511.28 L216.17,510.84 L214.66,510.37 L213.14,509.89 L211.63,509.38 L210.13,508.86 L208.63,508.31 L207.14,507.75 L205.66,507.17 L204.18,506.57 L202.71,505.95 L201.26,505.31 L199.81,504.65 L198.37,503.98 L196.95,503.28 L195.53,502.56 L194.13,501.82 L192.74,501.07 L191.37,500.29 L190.01,499.49 L188.67,498.68 L187.34,497.84 L186.02,496.98 L184.73,496.11 L183.45,495.21 L182.19,494.29 L180.95,493.36 L179.73,492.40 L178.53,491.42 L177.35,490.43 L176.18,489.41 L175.04,488.37 L173.92,487.32 L172.81,486.24 L171.72,485.15 L170.65,484.04 L169.60,482.92 L168.56,481.77 L167.54,480.61 L166.54,479.44 L165.55,478.24 L164.58,477.04 L163.63,475.81 L162.69,474.57 L161.77,473.32 L160.86,472.05 L159.97,470.77 L159.09,469.47 L158.23,468.16 L157.38,466.84 L156.54,465.50 L155.72,464.16 L154.91,462.80 L154.11,461.43 L153.32,460.04 L152.55,458.65 L151.79,457.25 L151.04,455.83 L150.30,454.41 L149.58,452.98 L148.86,451.53 L148.16,450.08 L147.46,448.62 L146.78,447.15 L146.10,445.67 L145.44,444.19 L144.78,442.70 L144.14,441.20 L143.50,439.69 L142.86,438.19 L142.21,436.70 L141.56,435.22 L140.88,433.76 L140.19,432.34 L139.46,430.95 L138.70,429.60 L137.89,428.30 L137.03,427.06 L136.12,425.88 L135.14,424.78 L134.10,423.75 L132.98,422.81 L131.78,421.96 L130.49,421.21 L129.13,420.60 L127.75,420.22 L126.42,420.17 L125.15,420.46 L123.96,421.03 L122.85,421.81 L121.82,422.79 L120.86,423.93 L119.97,425.22 L119.14,426.62 L118.38,428.13 L117.68,429.72 L117.02,431.36 L116.42,433.03 L115.86,434.71 L115.34,436.37 L114.85,438.01 L114.40,439.63 L113.97,441.22 L113.57,442.79 L113.19,444.34 L112.83,445.87 L112.48,447.39 L112.14,448.90 L111.81,450.39 L111.48,451.87 L111.15,453.35 L110.81,454.82 L110.47,456.28 L110.11,457.75 L109.74,459.21 L109.34,460.68 L108.93,462.15 L108.49,463.62 L108.02,465.10 L107.53,466.57 L107.02,468.05 L106.48,469.53 L105.92,471.00 L105.33,472.47 L104.72,473.93 L104.09,475.39 L103.43,476.84 L102.74,478.29 L102.03,479.72 L101.30,481.14 L100.54,482.55 L99.76,483.95 L98.96,485.33 L98.13,486.69 L97.27,488.04 L96.40,489.37 L95.49,490.68 L94.57,491.97 L93.62,493.24 L92.64,494.48 L91.65,495.70 L90.62,496.89 L89.58,498.06 L88.51,499.20 L87.41,500.31 L86.29,501.39 L85.15,502.43 L83.99,503.45 L82.80,504.42 L81.58,505.37 L80.34,506.27 L79.08,507.14 L77.80,507.97 L76.49,508.76 L75.15,509.51 L73.80,510.21 L72.42,510.87 L71.01,511.48 L69.58,512.05 L68.13,512.57 L66.66,513.04 L65.16,513.46 L63.64,513.83 L62.09,514.14 L60.52,514.41 L58.93,514.61 L57.31,514.76 L55.67,514.85 L54.00,514.89 L52.32,514.86 L50.61,514.77 L48.87,514.62 L47.11,514.41 Z" fill="#0000ff" fill-opacity="0.200" stroke="none"/>
<path d="M47.50,510.50 C48.03,509.93 49.72,508.52 50.70,507.10 C51.68,505.68 52.35,504.18 53.40,502.00 C54.45,499.82 55.82,496.92 57.00,494.00 C58.18,491.08 59.42,487.50 60.50,484.50 C61.58,481.50 62.50,478.92 63.50,476.00 C64.50,473.08 65.45,469.83 66.50,467.00 C67.55,464.17 68.63,461.67 69.80,459.00 C70.97,456.33 72.55,453.67 73.50,451.00 C74.45,448.33 74.83,445.68 75.50,443.00 C76.17,440.32 76.92,437.70 77.50,434.90 C78.08,432.10 78.42,429.02 79.00,426.20 C79.58,423.38 80.37,420.53 81.00,418.00 C81.63,415.47 82.17,413.50 82.80,411.00 C83.43,408.50 84.28,404.83 84.80,403.00 C85.32,401.17 85.55,401.47 85.90,400.00 C86.25,398.53 86.33,396.82 86.90,394.20 C87.47,391.58 88.48,387.58 89.30,384.30 C90.12,381.02 90.90,377.45 91.80,374.50 C92.70,371.55 93.38,369.22 94.70,366.60 C96.02,363.98 97.73,361.08 99.70,358.80 C101.67,356.52 104.38,354.22 106.50,352.90 C108.62,351.58 110.73,351.28 112.40,350.90 C114.07,350.52 115.23,350.40 116.50,350.60 C117.77,350.80 118.70,351.55 120.00,352.10 C121.30,352.65 122.98,352.88 124.30,353.90 C125.62,354.92 126.83,356.88 127.90,358.20 C128.97,359.52 129.63,360.62 130.70,361.80 C131.77,362.98 133.22,364.12 134.30,365.30 C135.38,366.48 136.12,367.58 137.20,368.90 C138.28,370.22 139.85,372.02 140.80,373.20 C141.75,374.38 142.05,375.32 142.90,376.00 C143.75,376.68 144.80,376.33 145.90,377.30 C147.00,378.27 148.32,380.30 149.50,381.80 C150.68,383.30 151.88,384.88 153.00,386.30 C154.12,387.72 155.15,388.88 156.20,390.30 C157.25,391.72 158.33,393.30 159.30,394.80 C160.27,396.30 161.22,398.02 162.00,399.30 C162.78,400.58 163.23,401.42 164.00,402.50 C164.77,403.58 165.43,404.13 166.60,405.80 C167.77,407.47 169.60,410.37 171.00,412.50 C172.40,414.63 173.43,416.25 175.00,418.60 C176.57,420.95 178.32,423.62 180.40,426.60 C182.48,429.58 185.12,432.92 187.50,436.50 C189.88,440.08 192.53,444.77 194.70,448.10 C196.87,451.43 198.72,454.10 200.50,456.50 C202.28,458.90 203.55,459.85 205.40,462.50 C207.25,465.15 209.52,469.57 211.60,472.40 C213.68,475.23 215.52,477.12 217.90,479.50 C220.28,481.88 222.92,484.47 225.90,486.70 C228.88,488.93 232.37,490.90 235.80,492.90 C239.23,494.90 242.85,496.82 246.50,498.70 C250.15,500.58 253.52,502.43 257.70,504.20 C261.88,505.97 266.97,507.95 271.60,509.30 C276.23,510.65 280.88,511.45 285.50,512.30 C290.12,513.15 294.68,513.82 299.30,514.40 C303.92,514.98 309.33,515.45 313.20,515.80 C317.07,516.15 320.95,516.38 322.50,516.50 L322.50,520.00 C318.75,519.93 308.75,519.90 300.00,519.60 C291.25,519.30 278.33,518.67 270.00,518.20 C261.67,517.73 256.67,517.45 250.00,516.80 C243.33,516.15 235.17,515.10 230.00,514.30 C224.83,513.50 222.62,512.95 219.00,512.00 C215.38,511.05 211.87,509.88 208.30,508.60 C204.73,507.32 201.35,506.40 197.60,504.30 C193.85,502.20 188.60,497.97 185.80,496.00 C183.00,494.03 182.60,493.80 180.80,492.50 C179.00,491.20 176.92,489.75 175.00,488.20 C173.08,486.65 171.08,485.23 169.30,483.20 C167.52,481.17 165.85,478.37 164.30,476.00 C162.75,473.63 161.38,471.12 160.00,469.00 C158.62,466.88 157.55,465.78 156.00,463.30 C154.45,460.82 152.67,457.17 150.70,454.10 C148.73,451.03 146.38,448.18 144.20,444.90 C142.02,441.62 139.80,436.37 137.60,434.40 C135.40,432.43 132.77,433.08 131.00,433.10 C129.23,433.12 128.32,433.62 127.00,434.50 C125.68,435.38 124.83,435.78 123.10,438.40 C121.37,441.02 118.35,446.27 116.60,450.20 C114.85,454.13 113.68,458.35 112.60,462.00 C111.52,465.65 111.83,467.80 110.10,472.10 C108.37,476.40 105.05,482.98 102.20,487.80 C99.35,492.62 95.87,497.88 93.00,501.00 C90.13,504.12 87.53,505.28 85.00,506.50 C82.47,507.72 80.63,507.30 77.80,508.30 C74.97,509.30 71.30,511.47 68.00,512.50 C64.70,513.53 61.42,514.17 58.00,514.50 C54.58,514.83 49.25,514.50 47.50,514.50 Z" fill="#ff0000" fill-opacity="0.200" stroke="none"/>
</g>
<g clip-path="url(#cc)" fill="none" stroke-linejoin="round">
<path d="M47.89,512.48 L49.40,511.28 L50.87,510.06 L52.30,508.80 L53.68,507.50 L55.02,506.18 L56.32,504.83 L57.58,503.45 L58.81,502.04 L59.99,500.60 L61.14,499.14 L62.26,497.65 L63.33,496.14 L64.38,494.61 L65.39,493.05 L66.37,491.47 L67.32,489.86 L68.24,488.24 L69.13,486.60 L70.00,484.94 L70.83,483.26 L71.64,481.57 L72.43,479.86 L73.19,478.14 L73.93,476.40 L74.65,474.65 L75.34,472.89 L76.02,471.11 L76.67,469.33 L77.31,467.53 L77.93,465.73 L78.54,463.92 L79.13,462.10 L79.70,460.28 L80.27,458.45 L80.82,456.62 L81.36,454.79 L81.88,452.95 L82.40,451.11 L82.91,449.27 L83.42,447.43 L83.91,445.59 L84.40,443.76 L84.89,441.92 L85.37,440.10 L85.85,438.27 L86.33,436.45 L86.81,434.64 L87.29,432.84 L87.77,431.04 L88.25,429.25 L88.73,427.48 L89.22,425.71 L89.71,423.94 L90.21,422.18 L90.70,420.43 L91.21,418.67 L91.71,416.92 L92.22,415.16 L92.74,413.40 L93.26,411.64 L93.79,409.86 L94.32,408.09 L94.85,406.30 L95.40,404.50 L95.95,402.69 L96.50,400.86 L97.06,399.02 L97.63,397.17 L98.20,395.29 L98.79,393.39 L99.38,391.48 L99.97,389.54 L100.58,387.57 L101.20,385.60 L101.85,383.64 L102.54,381.71 L103.29,379.83 L104.08,378.01 L104.95,376.27 L105.91,374.63 L106.95,373.11 L108.09,371.73 L109.34,370.50 L110.72,369.45 L112.20,368.59 L113.76,367.95 L115.37,367.55 L116.99,367.41 L118.60,367.57 L120.16,368.04 L121.66,368.81 L123.10,369.85 L124.48,371.09 L125.81,372.49 L127.09,374.00 L128.32,375.58 L129.50,377.17 L130.63,378.78 L131.72,380.38 L132.78,382.00 L133.79,383.62 L134.76,385.24 L135.70,386.88 L136.61,388.51 L137.49,390.16 L138.34,391.81 L139.16,393.46 L139.96,395.12 L140.74,396.79 L141.50,398.47 L142.24,400.15 L142.97,401.83 L143.69,403.52 L144.39,405.22 L145.08,406.92 L145.77,408.63 L146.46,410.34 L147.14,412.06 L147.82,413.79 L148.51,415.52 L149.20,417.25 L149.89,419.00 L150.60,420.74 L151.31,422.50 L152.04,424.25 L152.77,426.01 L153.52,427.77 L154.27,429.54 L155.04,431.30 L155.82,433.06 L156.62,434.82 L157.42,436.58 L158.24,438.33 L159.08,440.08 L159.92,441.83 L160.78,443.57 L161.66,445.30 L162.55,447.02 L163.45,448.73 L164.37,450.44 L165.31,452.13 L166.27,453.81 L167.24,455.48 L168.23,457.13 L169.23,458.77 L170.26,460.39 L171.30,462.00 L172.36,463.59 L173.44,465.16 L174.54,466.71 L175.66,468.23 L176.80,469.74 L177.96,471.23 L179.14,472.69 L180.35,474.13 L181.57,475.54 L182.82,476.93 L184.09,478.29 L185.38,479.62 L186.70,480.93 L188.03,482.21 L189.39,483.46 L190.77,484.69 L192.16,485.89 L193.58,487.06 L195.02,488.21 L196.48,489.34 L197.95,490.44 L199.44,491.52 L200.95,492.57 L202.48,493.59 L204.03,494.60 L205.59,495.57 L207.17,496.53 L208.76,497.46 L210.37,498.37 L212.00,499.26 L213.64,500.12 L215.29,500.96 L216.96,501.78 L218.64,502.58 L220.34,503.35 L222.04,504.11 L223.76,504.84 L225.50,505.55 L227.24,506.24 L228.99,506.91 L230.76,507.56 L232.54,508.19 L234.32,508.80 L236.12,509.39 L237.92,509.96 L239.73,510.51 L241.56,511.04 L243.39,511.56 L245.22,512.05 L247.07,512.53 L248.92,512.99 L250.78,513.43 L252.64,513.85 L254.51,514.25 L256.38,514.64 L258.26,515.01 L260.15,515.37 L262.03,515.71 L263.92,516.03 L265.82,516.33 L267.72,516.62 L269.62,516.90 L271.52,517.16 L273.42,517.40 L275.33,517.63 L277.23,517.85 L279.14,518.05 L281.04,518.23 L282.95,518.40 L284.85,518.56 L286.76,518.71 L288.66,518.84 L290.56,518.96 L292.46,519.06 L294.35,519.15 L296.24,519.23 L298.13,519.30 L300.02,519.36 L301.90,519.40 L303.77,519.44 L305.65,519.46 L307.51,519.47 L309.37,519.47 L311.22,519.46 L313.07,519.44 L314.91,519.41 L316.74,519.37 L318.56,519.32 L320.38,519.26 L322.19,519.19 L323.98,519.11 L325.77,519.02" stroke="#4dbeee" stroke-width="2.00" stroke-dasharray="7 7"/>
<path d="M47.56,512.47 L49.06,511.25 L50.51,510.00 L51.91,508.71 L53.27,507.40 L54.59,506.05 L55.87,504.68 L57.11,503.28 L58.31,501.85 L59.47,500.39 L60.60,498.91 L61.69,497.40 L62.74,495.87 L63.76,494.32 L64.75,492.74 L65.70,491.14 L66.63,489.53 L67.52,487.89 L68.39,486.24 L69.22,484.56 L70.04,482.87 L70.82,481.17 L71.58,479.45 L72.32,477.71 L73.03,475.97 L73.72,474.20 L74.39,472.43 L75.04,470.65 L75.67,468.86 L76.29,467.06 L76.89,465.25 L77.47,463.43 L78.04,461.61 L78.59,459.78 L79.13,457.95 L79.66,456.11 L80.18,454.27 L80.69,452.43 L81.19,450.59 L81.68,448.74 L82.17,446.90 L82.65,445.06 L83.13,443.22 L83.60,441.39 L84.08,439.56 L84.54,437.73 L85.01,435.91 L85.48,434.10 L85.96,432.29 L86.43,430.50 L86.91,428.71 L87.39,426.93 L87.88,425.16 L88.37,423.39 L88.86,421.63 L89.36,419.87 L89.86,418.12 L90.36,416.36 L90.87,414.60 L91.39,412.83 L91.90,411.07 L92.42,409.29 L92.94,407.51 L93.47,405.71 L93.99,403.91 L94.52,402.09 L95.06,400.26 L95.60,398.41 L96.13,396.54 L96.68,394.66 L97.22,392.75 L97.77,390.82 L98.32,388.87 L98.87,386.90 L99.44,384.92 L100.04,382.95 L100.68,381.02 L101.36,379.12 L102.11,377.30 L102.93,375.55 L103.83,373.90 L104.82,372.36 L105.93,370.96 L107.15,369.70 L108.49,368.61 L109.94,367.72 L111.45,367.06 L113.01,366.65 L114.58,366.53 L116.13,366.73 L117.64,367.26 L119.10,368.11 L120.50,369.21 L121.86,370.51 L123.16,371.97 L124.42,373.54 L125.63,375.17 L126.79,376.81 L127.90,378.46 L128.97,380.10 L130.00,381.75 L130.99,383.40 L131.94,385.06 L132.85,386.72 L133.74,388.38 L134.59,390.04 L135.41,391.71 L136.21,393.38 L136.98,395.05 L137.73,396.73 L138.46,398.41 L139.18,400.10 L139.88,401.79 L140.56,403.48 L141.24,405.18 L141.91,406.89 L142.57,408.60 L143.23,410.31 L143.89,412.03 L144.55,413.75 L145.21,415.48 L145.88,417.22 L146.56,418.96 L147.25,420.71 L147.94,422.46 L148.65,424.22 L149.37,425.98 L150.11,427.74 L150.85,429.50 L151.61,431.27 L152.38,433.03 L153.16,434.79 L153.96,436.55 L154.77,438.31 L155.60,440.06 L156.44,441.81 L157.29,443.55 L158.17,445.28 L159.05,447.01 L159.96,448.72 L160.88,450.43 L161.81,452.12 L162.76,453.81 L163.74,455.48 L164.72,457.13 L165.73,458.77 L166.75,460.40 L167.80,462.01 L168.86,463.60 L169.94,465.17 L171.04,466.72 L172.17,468.26 L173.31,469.77 L174.47,471.25 L175.66,472.72 L176.86,474.16 L178.09,475.57 L179.34,476.96 L180.61,478.32 L181.90,479.66 L183.22,480.96 L184.56,482.25 L185.92,483.50 L187.29,484.73 L188.69,485.93 L190.11,487.10 L191.55,488.26 L193.01,489.38 L194.48,490.48 L195.97,491.56 L197.49,492.61 L199.01,493.63 L200.56,494.63 L202.12,495.61 L203.70,496.57 L205.30,497.50 L206.91,498.41 L208.53,499.29 L210.17,500.15 L211.82,500.99 L213.49,501.81 L215.17,502.61 L216.87,503.38 L218.57,504.13 L220.29,504.86 L222.02,505.57 L223.77,506.26 L225.52,506.93 L227.28,507.58 L229.06,508.21 L230.84,508.81 L232.64,509.40 L234.44,509.97 L236.25,510.52 L238.07,511.05 L239.90,511.56 L241.74,512.05 L243.58,512.53 L245.43,512.99 L247.29,513.42 L249.15,513.85 L251.02,514.25 L252.89,514.64 L254.77,515.01 L256.65,515.36 L258.54,515.70 L260.43,516.02 L262.32,516.32 L264.22,516.61 L266.12,516.88 L268.02,517.14 L269.92,517.39 L271.83,517.61 L273.73,517.83 L275.64,518.03 L277.54,518.21 L279.45,518.38 L281.35,518.54 L283.25,518.69 L285.16,518.82 L287.06,518.94 L288.95,519.04 L290.85,519.13 L292.74,519.22 L294.63,519.28 L296.51,519.34 L298.39,519.39 L300.27,519.42 L302.14,519.44 L304.01,519.46 L305.87,519.46 L307.72,519.45 L309.57,519.43 L311.41,519.40 L313.24,519.37 L315.07,519.32 L316.88,519.26 L318.69,519.20 L320.49,519.12 L322.28,519.04" stroke="#edb120" stroke-width="2.00" stroke-dasharray="1.6 2.2"/>
<path d="M47.56,512.47 L49.06,511.25 L50.51,510.00 L51.91,508.71 L53.27,507.40 L54.59,506.05 L55.87,504.68 L57.11,503.28 L58.31,501.85 L59.47,500.39 L60.60,498.91 L61.69,497.40 L62.74,495.87 L63.76,494.32 L64.75,492.74 L65.70,491.14 L66.63,489.53 L67.52,487.89 L68.39,486.24 L69.22,484.56 L70.04,482.87 L70.82,481.17 L71.58,479.45 L72.32,477.71 L73.03,475.97 L73.72,474.20 L74.39,472.43 L75.04,470.65 L75.67,468.86 L76.29,467.06 L76.89,465.25 L77.47,463.43 L78.04,461.61 L78.59,459.78 L79.13,457.95 L79.66,456.11 L80.18,454.27 L80.69,452.43 L81.19,450.59 L81.68,448.74 L82.17,446.90 L82.65,445.06 L83.13,443.22 L83.60,441.39 L84.08,439.56 L84.54,437.73 L85.01,435.91 L85.48,434.10 L85.96,432.29 L86.43,430.50 L86.91,428.71 L87.39,426.93 L87.88,425.16 L88.37,423.39 L88.86,421.63 L89.36,419.87 L89.86,418.12 L90.36,416.36 L90.87,414.60 L91.39,412.83 L91.90,411.07 L92.42,409.29 L92.94,407.51 L93.47,405.71 L93.99,403.91 L94.52,402.09 L95.06,400.26 L95.60,398.41 L96.13,396.54 L96.68,394.66 L97.22,392.75 L97.77,390.82 L98.32,388.87 L98.87,386.90 L99.44,384.92 L100.04,382.95 L100.68,381.02 L101.36,379.12 L102.11,377.30 L102.93,375.55 L103.83,373.90 L104.82,372.36 L105.93,370.96 L107.15,369.70 L108.49,368.61 L109.94,367.72 L111.45,367.06 L113.01,366.65 L114.58,366.53 L116.13,366.73 L117.64,367.26 L119.10,368.11 L120.50,369.21 L121.86,370.51 L123.16,371.97 L124.42,373.54 L125.63,375.17 L126.79,376.81 L127.90,378.46 L128.97,380.10 L130.00,381.75 L130.99,383.40 L131.94,385.06 L132.85,386.72 L133.74,388.38 L134.59,390.04 L135.41,391.71 L136.21,393.38 L136.98,395.05 L137.73,396.73 L138.46,398.41 L139.18,400.10 L139.88,401.79 L140.56,403.48 L141.24,405.18 L141.91,406.89 L142.57,408.60 L143.23,410.31 L143.89,412.03 L144.55,413.75 L145.21,415.48 L145.88,417.22 L146.56,418.96 L147.25,420.71 L147.94,422.46 L148.65,424.22 L149.37,425.98 L150.11,427.74 L150.85,429.50 L151.61,431.27 L152.38,433.03 L153.16,434.79 L153.96,436.55 L154.77,438.31 L155.60,440.06 L156.44,441.81 L157.29,443.55 L158.17,445.28 L159.05,447.01 L159.96,448.72 L160.88,450.43 L161.81,452.12 L162.76,453.81 L163.74,455.48 L164.72,457.13 L165.73,458.77 L166.75,460.40 L167.80,462.01 L168.86,463.60 L169.94,465.17 L171.04,466.72 L172.17,468.26 L173.31,469.77 L174.47,471.25 L175.66,472.72 L176.86,474.16 L178.09,475.57 L179.34,476.96 L180.61,478.32 L181.90,479.66 L183.22,480.96 L184.56,482.25 L185.92,483.50 L187.29,484.73 L188.69,485.93 L190.11,487.10 L191.55,488.26 L193.01,489.38 L194.48,490.48 L195.97,491.56 L197.49,492.61 L199.01,493.63 L200.56,494.63 L202.12,495.61 L203.70,496.57 L205.30,497.50 L206.91,498.41 L208.53,499.29 L210.17,500.15 L211.82,500.99 L213.49,501.81 L215.17,502.61 L216.87,503.38 L218.57,504.13 L220.29,504.86 L222.02,505.57 L223.77,506.26 L225.52,506.93 L227.28,507.58 L229.06,508.21 L230.84,508.81 L232.64,509.40 L234.44,509.97 L236.25,510.52 L238.07,511.05 L239.90,511.56 L241.74,512.05 L243.58,512.53 L245.43,512.99 L247.29,513.42 L249.15,513.85 L251.02,514.25 L252.89,514.64 L254.77,515.01 L256.65,515.36 L258.54,515.70 L260.43,516.02 L262.32,516.32 L264.22,516.61 L266.12,516.88 L268.02,517.14 L269.92,517.39 L271.83,517.61 L273.73,517.83 L275.64,518.03 L277.54,518.21 L279.45,518.38 L281.35,518.54 L283.25,518.69 L285.16,518.82 L287.06,518.94 L288.95,519.04 L290.85,519.13 L292.74,519.22 L294.63,519.28 L296.51,519.34 L298.39,519.39 L300.27,519.42 L302.14,519.44 L304.01,519.46 L305.87,519.46 L307.72,519.45 L309.57,519.43 L311.41,519.40 L313.24,519.37 L315.07,519.32 L316.88,519.26 L318.69,519.20 L320.49,519.12 L322.28,519.04" stroke="#999999" stroke-width="2.00" stroke-dasharray="6.7 2 3.4 2"/>
<path d="M47.32,512.62 L48.79,511.63 L50.23,510.61 L51.62,509.56 L52.99,508.49 L54.32,507.40 L55.62,506.28 L56.88,505.13 L58.11,503.96 L59.32,502.77 L60.49,501.56 L61.63,500.33 L62.75,499.07 L63.83,497.80 L64.89,496.50 L65.92,495.19 L66.93,493.86 L67.91,492.51 L68.87,491.14 L69.80,489.76 L70.71,488.36 L71.59,486.94 L72.45,485.51 L73.30,484.07 L74.12,482.61 L74.92,481.14 L75.70,479.65 L76.46,478.16 L77.21,476.65 L77.94,475.13 L78.65,473.60 L79.34,472.07 L80.02,470.52 L80.69,468.97 L81.34,467.41 L81.98,465.84 L82.60,464.26 L83.22,462.68 L83.82,461.10 L84.41,459.50 L85.00,457.91 L85.57,456.31 L86.14,454.71 L86.69,453.11 L87.24,451.50 L87.79,449.90 L88.33,448.29 L88.86,446.69 L89.39,445.08 L89.91,443.48 L90.43,441.88 L90.95,440.28 L91.47,438.68 L91.99,437.09 L92.51,435.50 L93.04,433.91 L93.57,432.32 L94.11,430.74 L94.66,429.16 L95.21,427.58 L95.78,426.00 L96.37,424.42 L96.96,422.84 L97.58,421.27 L98.21,419.70 L98.87,418.13 L99.54,416.56 L100.24,414.99 L100.97,413.42 L101.72,411.85 L102.50,410.28 L103.31,408.71 L104.15,407.14 L105.03,405.58 L105.94,404.01 L106.89,402.45 L107.87,400.90 L108.89,399.40 L109.95,397.96 L111.05,396.61 L112.18,395.36 L113.35,394.23 L114.56,393.26 L115.81,392.45 L117.09,391.83 L118.42,391.42 L119.77,391.21 L121.15,391.19 L122.56,391.34 L123.98,391.66 L125.41,392.12 L126.85,392.73 L128.29,393.45 L129.72,394.29 L131.14,395.23 L132.54,396.25 L133.91,397.34 L135.26,398.50 L136.58,399.70 L137.85,400.94 L139.08,402.20 L140.27,403.48 L141.41,404.78 L142.52,406.09 L143.58,407.43 L144.61,408.78 L145.61,410.15 L146.58,411.53 L147.51,412.93 L148.42,414.34 L149.31,415.77 L150.17,417.20 L151.01,418.65 L151.84,420.10 L152.64,421.57 L153.43,423.04 L154.21,424.52 L154.98,426.01 L155.74,427.51 L156.49,429.00 L157.24,430.51 L157.99,432.01 L158.73,433.52 L159.48,435.03 L160.24,436.54 L161.00,438.04 L161.76,439.55 L162.54,441.06 L163.33,442.56 L164.14,444.06 L164.96,445.55 L165.79,447.04 L166.64,448.53 L167.50,450.01 L168.38,451.48 L169.28,452.94 L170.18,454.40 L171.11,455.85 L172.04,457.29 L173.00,458.72 L173.96,460.14 L174.95,461.55 L175.94,462.95 L176.95,464.34 L177.98,465.72 L179.02,467.08 L180.08,468.43 L181.15,469.77 L182.23,471.09 L183.33,472.40 L184.45,473.69 L185.58,474.97 L186.72,476.23 L187.88,477.48 L189.05,478.70 L190.24,479.91 L191.45,481.10 L192.66,482.27 L193.90,483.42 L195.14,484.55 L196.41,485.66 L197.69,486.75 L198.98,487.82 L200.28,488.86 L201.61,489.89 L202.94,490.88 L204.29,491.86 L205.66,492.81 L207.04,493.74 L208.43,494.65 L209.84,495.54 L211.26,496.41 L212.69,497.25 L214.13,498.07 L215.59,498.87 L217.06,499.66 L218.54,500.42 L220.03,501.16 L221.53,501.88 L223.04,502.58 L224.56,503.26 L226.10,503.93 L227.64,504.57 L229.19,505.20 L230.75,505.81 L232.32,506.39 L233.90,506.97 L235.49,507.52 L237.08,508.06 L238.68,508.58 L240.29,509.08 L241.91,509.57 L243.54,510.04 L245.17,510.49 L246.80,510.93 L248.45,511.36 L250.10,511.77 L251.75,512.16 L253.41,512.54 L255.08,512.90 L256.75,513.25 L258.42,513.59 L260.10,513.91 L261.78,514.22 L263.46,514.51 L265.15,514.80 L266.84,515.07 L268.53,515.33 L270.23,515.57 L271.93,515.81 L273.63,516.03 L275.33,516.24 L277.03,516.44 L278.73,516.63 L280.43,516.80 L282.14,516.97 L283.84,517.13 L285.54,517.28 L287.24,517.42 L288.95,517.54 L290.65,517.66 L292.34,517.78 L294.04,517.88 L295.74,517.97 L297.43,518.06 L299.12,518.14 L300.81,518.21 L302.49,518.27 L304.17,518.33 L305.85,518.38 L307.52,518.42 L309.19,518.45 L310.85,518.49 L312.51,518.51 L314.16,518.53 L315.81,518.54 L317.45,518.55 L319.08,518.56 L320.71,518.56 L322.34,518.55" stroke="#ff0000" stroke-width="2.00"/>
<path d="M47.57,512.73 L49.00,511.59 L50.40,510.42 L51.76,509.23 L53.09,508.02 L54.38,506.78 L55.65,505.52 L56.88,504.24 L58.08,502.93 L59.26,501.61 L60.40,500.26 L61.51,498.90 L62.60,497.52 L63.66,496.12 L64.69,494.70 L65.69,493.26 L66.67,491.80 L67.63,490.33 L68.56,488.85 L69.47,487.34 L70.36,485.83 L71.22,484.29 L72.06,482.75 L72.88,481.19 L73.68,479.62 L74.46,478.03 L75.23,476.44 L75.97,474.83 L76.70,473.22 L77.41,471.59 L78.10,469.95 L78.78,468.31 L79.44,466.65 L80.09,464.99 L80.73,463.32 L81.35,461.64 L81.96,459.96 L82.56,458.27 L83.14,456.57 L83.72,454.88 L84.29,453.17 L84.85,451.46 L85.40,449.75 L85.94,448.04 L86.48,446.33 L87.00,444.61 L87.53,442.89 L88.05,441.17 L88.56,439.46 L89.07,437.74 L89.58,436.02 L90.08,434.31 L90.59,432.59 L91.09,430.88 L91.59,429.18 L92.09,427.47 L92.59,425.77 L93.10,424.08 L93.61,422.39 L94.12,420.70 L94.65,419.02 L95.18,417.34 L95.72,415.66 L96.28,413.99 L96.85,412.33 L97.43,410.67 L98.03,409.01 L98.65,407.36 L99.29,405.71 L99.95,404.06 L100.63,402.42 L101.34,400.78 L102.07,399.15 L102.83,397.52 L103.62,395.90 L104.44,394.28 L105.29,392.67 L106.18,391.06 L107.10,389.45 L108.06,387.85 L109.06,386.25 L110.10,384.66 L111.18,383.10 L112.32,381.66 L113.51,380.39 L114.77,379.37 L116.10,378.67 L117.51,378.34 L118.96,378.40 L120.42,378.84 L121.89,379.59 L123.34,380.57 L124.76,381.71 L126.15,382.91 L127.49,384.15 L128.79,385.42 L130.04,386.71 L131.26,388.03 L132.44,389.37 L133.58,390.74 L134.69,392.13 L135.76,393.54 L136.81,394.97 L137.82,396.42 L138.81,397.89 L139.77,399.37 L140.70,400.88 L141.62,402.40 L142.51,403.93 L143.38,405.47 L144.23,407.03 L145.07,408.60 L145.90,410.18 L146.71,411.76 L147.51,413.36 L148.30,414.96 L149.08,416.57 L149.86,418.18 L150.63,419.80 L151.40,421.41 L152.18,423.03 L152.95,424.65 L153.72,426.27 L154.50,427.89 L155.28,429.51 L156.07,431.12 L156.87,432.73 L157.68,434.33 L158.49,435.93 L159.32,437.53 L160.15,439.12 L160.99,440.70 L161.84,442.28 L162.70,443.85 L163.57,445.42 L164.45,446.97 L165.35,448.52 L166.25,450.06 L167.17,451.60 L168.10,453.12 L169.04,454.63 L170.00,456.14 L170.96,457.63 L171.95,459.11 L172.94,460.59 L173.96,462.05 L174.98,463.50 L176.02,464.93 L177.08,466.36 L178.16,467.77 L179.25,469.17 L180.36,470.55 L181.48,471.92 L182.62,473.28 L183.79,474.62 L184.97,475.94 L186.16,477.25 L187.38,478.55 L188.61,479.82 L189.86,481.08 L191.13,482.33 L192.42,483.55 L193.72,484.76 L195.04,485.95 L196.37,487.12 L197.72,488.28 L199.09,489.41 L200.47,490.53 L201.87,491.62 L203.28,492.70 L204.71,493.75 L206.15,494.79 L207.60,495.80 L209.07,496.79 L210.56,497.76 L212.05,498.71 L213.56,499.64 L215.09,500.54 L216.62,501.42 L218.17,502.28 L219.73,503.12 L221.31,503.93 L222.89,504.71 L224.49,505.48 L226.09,506.21 L227.71,506.93 L229.34,507.61 L230.98,508.27 L232.63,508.91 L234.29,509.52 L235.97,510.10 L237.65,510.65 L239.34,511.18 L241.03,511.69 L242.74,512.16 L244.46,512.62 L246.18,513.05 L247.91,513.46 L249.65,513.84 L251.39,514.21 L253.14,514.55 L254.90,514.88 L256.66,515.18 L258.42,515.47 L260.20,515.74 L261.97,515.99 L263.75,516.23 L265.54,516.45 L267.32,516.65 L269.11,516.84 L270.91,517.02 L272.70,517.18 L274.50,517.34 L276.30,517.48 L278.09,517.61 L279.89,517.73 L281.69,517.84 L283.50,517.95 L285.30,518.04 L287.09,518.13 L288.89,518.21 L290.69,518.29 L292.48,518.36 L294.28,518.43 L296.07,518.49 L297.85,518.55 L299.64,518.61 L301.42,518.67 L303.19,518.72 L304.96,518.78 L306.73,518.83 L308.49,518.89 L310.25,518.95 L312.00,519.02 L313.74,519.08 L315.48,519.16 L317.21,519.23 L318.93,519.31 L320.64,519.40 L322.35,519.50" stroke="#0000ff" stroke-width="2.00"/>
</g>
<path d="M409.50,234.50 L409.50,233.36 L410.31,233.36 L410.31,233.04 L411.94,233.04 L411.94,232.72 L413.56,232.72 L413.56,232.39 L415.19,232.39 L415.19,232.04 L416.81,232.04 L416.81,231.79 L418.44,231.79 L418.44,231.35 L420.07,231.35 L420.07,230.85 L421.69,230.85 L421.69,230.43 L423.32,230.43 L423.32,230.21 L424.94,230.21 L424.94,229.78 L426.57,229.78 L426.57,229.06 L428.19,229.06 L428.19,227.84 L429.82,227.84 L429.82,226.94 L431.44,226.94 L431.44,225.65 L433.07,225.65 L433.07,224.43 L434.70,224.43 L434.70,223.53 L436.32,223.53 L436.32,222.12 L437.95,222.12 L437.95,221.04 L439.57,221.04 L439.57,220.39 L441.20,220.39 L441.20,218.05 L442.82,218.05 L442.82,214.92 L444.45,214.92 L444.45,213.05 L446.07,213.05 L446.07,211.61 L447.70,211.61 L447.70,208.99 L449.32,208.99 L449.32,206.48 L450.95,206.48 L450.95,204.12 L452.58,204.12 L452.58,199.34 L454.20,199.34 L454.20,194.31 L455.83,194.31 L455.83,191.20 L457.45,191.20 L457.45,189.00 L459.08,189.00 L459.08,186.10 L460.70,186.10 L460.70,180.71 L462.33,180.71 L462.33,175.16 L463.95,175.16 L463.95,171.26 L465.58,171.26 L465.58,165.92 L467.21,165.92 L467.21,161.94 L468.83,161.94 L468.83,160.16 L470.46,160.16 L470.46,158.40 L472.08,158.40 L472.08,155.00 L473.71,155.00 L473.71,153.10 L475.33,153.10 L475.33,151.20 L476.96,151.20 L476.96,147.20 L478.58,147.20 L478.58,145.80 L480.21,145.80 L480.21,143.10 L481.83,143.10 L481.83,140.20 L483.46,140.20 L483.46,138.00 L485.09,138.00 L485.09,143.10 L486.71,143.10 L486.71,140.20 L488.34,140.20 L488.34,136.20 L489.96,136.20 L489.96,141.00 L491.59,141.00 L491.59,141.50 L493.21,141.50 L493.21,142.90 L494.84,142.90 L494.84,144.20 L496.46,144.20 L496.46,147.20 L498.09,147.20 L498.09,153.10 L499.72,153.10 L499.72,160.35 L501.34,160.35 L501.34,161.08 L502.97,161.08 L502.97,164.02 L504.59,164.02 L504.59,165.61 L506.22,165.61 L506.22,169.88 L507.84,169.88 L507.84,174.69 L509.47,174.69 L509.47,179.63 L511.09,179.63 L511.09,185.49 L512.72,185.49 L512.72,189.19 L514.34,189.19 L514.34,194.40 L515.97,194.40 L515.97,198.59 L517.60,198.59 L517.60,203.95 L519.22,203.95 L519.22,207.04 L520.85,207.04 L520.85,210.44 L522.47,210.44 L522.47,212.92 L524.10,212.92 L524.10,214.49 L525.72,214.49 L525.72,217.77 L527.35,217.77 L527.35,219.96 L528.97,219.96 L528.97,222.86 L530.60,222.86 L530.60,225.68 L532.23,225.68 L532.23,226.98 L533.85,226.98 L533.85,227.74 L535.48,227.74 L535.48,228.75 L537.10,228.75 L537.10,229.54 L538.73,229.54 L538.73,230.25 L540.35,230.25 L540.35,231.00 L541.98,231.00 L541.98,231.74 L543.60,231.74 L543.60,232.48 L545.23,232.48 L545.23,233.15 L546.85,233.15 L546.85,233.86 L548.48,233.86 L548.48,234.50 Z" fill="#bfbfbf"/>
<path d="M572.86,520.50 L572.86,519.12 L574.49,519.12 L574.49,518.47 L576.11,518.47 L576.11,517.92 L577.74,517.92 L577.74,517.57 L579.36,517.57 L579.36,516.97 L580.99,516.97 L580.99,516.45 L582.62,516.45 L582.62,515.58 L584.24,515.58 L584.24,514.70 L585.87,514.70 L585.87,513.96 L587.49,513.96 L587.49,512.91 L589.12,512.91 L589.12,511.67 L590.74,511.67 L590.74,510.46 L592.37,510.46 L592.37,508.26 L593.99,508.26 L593.99,506.33 L595.62,506.33 L595.62,503.60 L597.25,503.60 L597.25,499.23 L598.87,499.23 L598.87,495.74 L600.50,495.74 L600.50,488.80 L602.12,488.80 L602.12,482.66 L603.75,482.66 L603.75,476.06 L605.37,476.06 L605.37,471.17 L607.00,471.17 L607.00,466.97 L608.62,466.97 L608.62,463.07 L610.25,463.07 L610.25,457.52 L611.87,457.52 L611.87,445.87 L613.50,445.87 L613.50,436.51 L615.13,436.51 L615.13,430.51 L616.75,430.51 L616.75,422.09 L618.38,422.09 L618.38,407.00 L620.00,407.00 L620.00,395.10 L621.63,395.10 L621.63,389.00 L623.25,389.00 L623.25,385.06 L624.88,385.06 L624.88,378.37 L626.50,378.37 L626.50,368.84 L628.13,368.84 L628.13,364.16 L629.76,364.16 L629.76,371.20 L631.38,371.20 L631.38,361.73 L633.01,361.73 L633.01,367.59 L634.63,367.59 L634.63,366.40 L636.26,366.40 L636.26,373.53 L637.88,373.53 L637.88,379.71 L639.51,379.71 L639.51,397.79 L641.13,397.79 L641.13,408.20 L642.76,408.20 L642.76,420.63 L644.38,420.63 L644.38,432.29 L646.01,432.29 L646.01,448.87 L647.64,448.87 L647.64,457.59 L649.26,457.59 L649.26,464.13 L650.89,464.13 L650.89,474.23 L652.51,474.23 L652.51,481.46 L654.14,481.46 L654.14,490.18 L655.76,490.18 L655.76,497.87 L657.39,497.87 L657.39,504.74 L659.01,504.74 L659.01,510.81 L660.64,510.81 L660.64,514.28 L662.27,514.28 L662.27,517.34 L663.89,517.34 L663.89,519.17 L665.52,519.17 L665.52,520.50 Z" fill="#bfbfbf"/>
<path d="M409.50,234.30 L410.74,234.30 L411.98,234.30 L413.22,234.30 L414.46,234.30 L415.70,234.30 L416.94,234.30 L418.18,234.30 L419.41,234.30 L420.65,234.30 L421.89,234.30 L423.13,234.30 L424.37,234.30 L425.61,234.30 L426.85,234.30 L428.09,234.30 L429.33,234.30 L430.57,234.30 L431.81,234.30 L433.05,234.30 L434.29,234.30 L435.53,234.31 L436.76,234.31 L438.00,234.31 L439.24,234.31 L440.48,234.31 L441.72,234.31 L442.96,234.31 L444.20,234.31 L445.44,234.31 L446.68,234.31 L447.92,234.31 L449.16,234.31 L450.40,234.31 L451.64,234.31 L452.87,234.31 L454.11,234.31 L455.35,234.31 L456.59,234.31 L457.83,234.31 L459.07,234.31 L460.31,234.31 L461.55,234.31 L462.79,234.31 L464.03,234.31 L465.27,234.31 L466.51,234.31 L467.74,234.31 L468.98,234.31 L470.22,234.31 L471.46,234.31 L472.70,234.31 L473.94,234.31 L475.18,234.31 L476.42,234.31 L477.66,234.31 L478.90,234.31 L480.14,234.31 L481.37,234.31 L482.61,234.31 L483.85,234.31 L485.09,234.30 L486.33,234.30 L487.57,234.30 L488.81,234.30 L490.05,234.30 L491.29,234.30 L492.53,234.30 L493.77,234.30 L495.01,234.30 L496.24,234.30 L497.48,234.30 L498.72,234.30 L499.96,234.30 L501.20,234.30 L502.44,234.30 L503.68,234.30 L504.92,234.30 L506.16,234.30 L507.40,234.30 L508.64,234.30 L509.87,234.30 L511.11,234.30 L512.35,234.30 L513.59,234.30 L514.83,234.29 L516.07,234.29 L517.31,234.29 L518.55,234.29 L519.79,234.29 L521.03,234.29 L522.27,234.29 L523.51,234.29 L524.75,234.29 L525.98,234.29 L527.22,234.29 L528.46,234.29 L529.70,234.29 L530.94,234.29 L532.18,234.28 L533.42,234.28 L534.66,234.28 L535.90,234.28 L537.14,234.28 L538.38,234.28 L539.62,234.28 L540.86,234.28 L542.09,234.28 L543.33,234.28 L544.57,234.28 L545.81,234.27 L547.05,234.27 L548.29,234.27 L549.53,234.27 L550.77,234.27 L552.01,234.27 L553.25,234.27 L554.49,234.27 L555.73,234.27 L556.97,234.26 L558.21,234.26 L559.45,234.26 L560.68,234.26 L561.92,234.26 L563.16,234.26 L564.40,234.26 L565.64,234.26 L566.88,234.25 L568.12,234.25 L569.36,234.25 L570.60,234.25 L571.84,234.25 L573.08,234.25 L574.32,234.25 L575.56,234.25 L576.80,234.24 L578.04,234.24 L579.28,234.23 L580.52,234.23 L581.75,234.21 L582.99,234.19 L584.23,234.17 L585.47,234.13 L586.71,234.09 L587.95,234.04 L589.18,233.98 L590.42,233.91 L591.65,233.82 L592.89,233.73 L594.12,233.61 L595.36,233.48 L596.59,233.34 L597.82,233.18 L599.05,233.00 L600.28,232.79 L601.50,232.56 L602.71,232.30 L603.91,231.99 L605.09,231.65 L606.25,231.26 L607.39,230.81 L608.51,230.31 L609.60,229.75 L610.65,229.13 L611.68,228.44 L612.67,227.71 L613.64,226.92 L614.57,226.09 L615.47,225.21 L616.33,224.30 L617.16,223.34 L617.95,222.36 L618.71,221.35 L619.43,220.32 L620.11,219.26 L620.75,218.19 L621.36,217.11 L621.93,216.01 L622.46,214.90 L622.97,213.78 L623.44,212.65 L623.89,211.51 L624.31,210.36 L624.71,209.20 L625.09,208.03 L625.45,206.86 L625.80,205.67 L626.14,204.48 L626.46,203.29 L626.76,202.09 L627.06,200.88 L627.35,199.67 L627.63,198.46 L627.89,197.25 L628.16,196.03 L628.41,194.81 L628.66,193.60 L628.90,192.38 L629.14,191.16 L629.37,189.94 L629.60,188.72 L629.82,187.50 L630.03,186.27 L630.24,185.05 L630.44,183.83 L630.64,182.60 L630.84,181.38 L631.03,180.15 L631.22,178.93 L631.40,177.70 L631.58,176.47 L631.76,175.24 L631.93,174.02 L632.10,172.79 L632.27,171.56 L632.43,170.33 L632.59,169.10 L632.75,167.87 L632.90,166.64 L633.06,165.41 L633.21,164.18 L633.36,162.95 L633.51,161.72 L633.66,160.49 L633.80,159.26 L633.95,158.03 L634.09,156.80 L634.24,155.57 L634.38,154.34 L634.52,153.11 L634.66,151.88 L634.80,150.65 L634.94,149.42 L635.08,148.18 L635.21,146.95 L635.35,145.72 L635.48,144.49 L635.62,143.26 L635.75,142.03 L635.88,140.80 L636.02,139.57 L636.15,138.34 L636.28,137.10 L636.41,135.87 L636.54,134.64 L636.67,133.41 L636.79,132.18 L636.92,130.95 L637.05,129.72 L637.18,128.48 L637.30,127.25 L637.43,126.02 L637.55,124.79 L637.68,123.56 L637.80,122.33 L637.93,121.09 L638.05,119.86 L638.18,118.63 L638.30,117.40 L638.42,116.17 L638.55,114.93 L638.67,113.70 L638.79,112.47 L638.91,111.24 L639.03,110.01 L639.16,108.77 L639.28,107.54 L639.40,106.31 L639.52,105.08 L639.64,103.84 L639.77,102.61 L639.89,101.38 L640.01,100.14 L640.13,98.91 L640.25,97.68 L640.38,96.45 L640.50,95.21 L640.62,93.98 L640.74,92.75 L640.87,91.51 L640.99,90.28 L641.11,89.05 L641.24,87.81 L641.36,86.58 L641.49,85.34 L641.61,84.11 L641.74,82.88 L641.86,81.64 L641.99,80.41 L642.12,79.18 L642.24,77.94 L642.37,76.71 L642.50,75.47 L642.63,74.24 L642.76,73.00 L642.89,71.77 L643.02,70.54 L643.15,69.30 L643.28,68.07 L643.41,66.83 L643.55,65.60 L643.68,64.36 L643.81,63.13 L643.95,61.89 L644.09,60.66 L644.22,59.42 L644.36,58.19 L644.50,56.95 L644.64,55.71 L644.79,54.48 L644.94,53.25 L645.10,52.02 L645.27,50.79 L645.45,49.56 L645.65,48.34 L645.86,47.12 L646.09,45.90 L646.33,44.69 L646.60,43.49 L646.88,42.29 L647.20,41.09 L647.53,39.90 L647.90,38.72 L648.29,37.55 L648.71,36.38 L649.17,35.22 L649.66,34.07 L650.20,32.96 L650.85,32.23 L651.71,32.40 L652.57,33.26 L653.17,34.38 L653.57,35.61 L653.90,36.87 L654.20,38.12 L654.48,39.37 L654.75,40.62 L654.99,41.86 L655.22,43.10 L655.44,44.33 L655.64,45.56 L655.83,46.79 L656.01,48.02 L656.18,49.25 L656.34,50.47 L656.49,51.69 L656.63,52.91 L656.76,54.13 L656.89,55.36 L657.02,56.58 L657.14,57.80 L657.26,59.02 L657.37,60.25 L657.49,61.47 L657.60,62.70 L657.71,63.93 L657.82,65.16 L657.92,66.39 L658.03,67.62 L658.13,68.85 L658.23,70.08 L658.33,71.31 L658.43,72.55 L658.52,73.78 L658.62,75.02 L658.71,76.25 L658.80,77.49 L658.89,78.73 L658.98,79.96 L659.07,81.20 L659.16,82.44 L659.24,83.68 L659.33,84.92 L659.41,86.16 L659.50,87.40 L659.58,88.64 L659.66,89.88 L659.74,91.12 L659.82,92.36 L659.90,93.60 L659.98,94.84 L660.06,96.08 L660.14,97.33 L660.22,98.57 L660.30,99.81 L660.38,101.05 L660.46,102.29 L660.54,103.53 L660.62,104.77 L660.70,106.01 L660.78,107.25 L660.86,108.49 L660.94,109.73 L661.02,110.97 L661.10,112.21 L661.18,113.45 L661.26,114.68 L661.34,115.92 L661.43,117.16 L661.51,118.40 L661.59,119.63 L661.68,120.87 L661.76,122.10 L661.85,123.34 L661.94,124.57 L662.02,125.81 L662.11,127.04 L662.20,128.28 L662.29,129.51 L662.38,130.75 L662.47,131.98 L662.56,133.21 L662.65,134.45 L662.74,135.68 L662.83,136.91 L662.93,138.15 L663.02,139.38 L663.12,140.61 L663.21,141.84 L663.31,143.07 L663.41,144.31 L663.51,145.54 L663.60,146.77 L663.70,148.00 L663.81,149.23 L663.91,150.46 L664.01,151.69 L664.11,152.93 L664.22,154.16 L664.32,155.39 L664.43,156.62 L664.54,157.85 L664.64,159.08 L664.75,160.31 L664.86,161.54 L664.98,162.78 L665.09,164.01 L665.20,165.24 L665.32,166.47 L665.43,167.70 L665.55,168.93 L665.67,170.16 L665.78,171.40 L665.90,172.63 L666.03,173.86 L666.15,175.09 L666.27,176.32 L666.40,177.56 L666.52,178.79 L666.65,180.02 L666.78,181.25 L666.91,182.49 L667.04,183.72 L667.17,184.95 L667.30,186.19 L667.44,187.42 L667.57,188.66 L667.71,189.89 L667.85,191.12 L667.99,192.36 L668.13,193.60 L668.27,194.83 L668.42,196.07 L668.56,197.30 L668.71,198.54 L668.86,199.78 L669.01,201.01 L669.16,202.25 L669.31,203.49 L669.46,204.73 L669.62,205.97 L669.78,207.21 L669.93,208.44 L670.10,209.68 L670.26,210.92 L670.42,212.17 L670.59,213.41 L670.75,214.65 L670.92,215.89 L671.09,217.13 L671.27,218.37 L671.46,219.61 L671.67,220.83 L671.91,222.05 L672.19,223.24 L672.50,224.42 L672.87,225.57 L673.29,226.70 L673.77,227.80 L674.32,228.86 L674.94,229.89 L675.65,230.87 L676.45,231.81 L677.35,232.70 L678.35,233.45 L679.47,233.97 L680.72,234.16 L682.09,233.98 L683.42,233.83 L684.51,234.26" fill="none" stroke="#0000ff" stroke-width="2.00"/>
<path d="M409.50,520.30 L410.74,520.30 L411.98,520.30 L413.22,520.30 L414.46,520.30 L415.70,520.30 L416.94,520.30 L418.18,520.30 L419.41,520.30 L420.65,520.30 L421.89,520.30 L423.13,520.30 L424.37,520.30 L425.61,520.30 L426.85,520.30 L428.09,520.30 L429.33,520.30 L430.57,520.30 L431.81,520.30 L433.05,520.30 L434.29,520.30 L435.53,520.31 L436.76,520.31 L438.00,520.31 L439.24,520.31 L440.48,520.31 L441.72,520.31 L442.96,520.31 L444.20,520.31 L445.44,520.31 L446.68,520.31 L447.92,520.31 L449.16,520.31 L450.40,520.31 L451.64,520.31 L452.87,520.31 L454.11,520.31 L455.35,520.31 L456.59,520.31 L457.83,520.31 L459.07,520.31 L460.31,520.31 L461.55,520.31 L462.79,520.31 L464.03,520.31 L465.27,520.31 L466.51,520.31 L467.74,520.31 L468.98,520.31 L470.22,520.31 L471.46,520.31 L472.70,520.31 L473.94,520.31 L475.18,520.31 L476.42,520.31 L477.66,520.31 L478.90,520.31 L480.14,520.31 L481.37,520.31 L482.61,520.31 L483.85,520.31 L485.09,520.30 L486.33,520.30 L487.57,520.30 L488.81,520.30 L490.05,520.30 L491.29,520.30 L492.53,520.30 L493.77,520.30 L495.01,520.30 L496.24,520.30 L497.48,520.30 L498.72,520.30 L499.96,520.30 L501.20,520.30 L502.44,520.30 L503.68,520.30 L504.92,520.30 L506.16,520.30 L507.40,520.30 L508.64,520.30 L509.87,520.30 L511.11,520.30 L512.35,520.30 L513.59,520.30 L514.83,520.29 L516.07,520.29 L517.31,520.29 L518.55,520.29 L519.79,520.29 L521.03,520.29 L522.27,520.29 L523.51,520.29 L524.75,520.29 L525.98,520.29 L527.22,520.29 L528.46,520.29 L529.70,520.29 L530.94,520.29 L532.18,520.28 L533.42,520.28 L534.66,520.28 L535.90,520.28 L537.14,520.28 L538.38,520.28 L539.62,520.28 L540.86,520.28 L542.09,520.28 L543.33,520.28 L544.57,520.28 L545.81,520.27 L547.05,520.27 L548.29,520.27 L549.53,520.27 L550.77,520.27 L552.01,520.27 L553.25,520.27 L554.49,520.27 L555.73,520.27 L556.97,520.26 L558.21,520.26 L559.45,520.26 L560.68,520.26 L561.92,520.26 L563.16,520.26 L564.40,520.26 L565.64,520.26 L566.88,520.25 L568.12,520.25 L569.36,520.25 L570.60,520.25 L571.84,520.25 L573.08,520.25 L574.32,520.25 L575.56,520.25 L576.80,520.24 L578.04,520.24 L579.28,520.23 L580.52,520.23 L581.75,520.21 L582.99,520.19 L584.23,520.17 L585.47,520.13 L586.71,520.09 L587.95,520.04 L589.18,519.98 L590.42,519.91 L591.65,519.82 L592.89,519.73 L594.12,519.61 L595.36,519.48 L596.59,519.34 L597.82,519.18 L599.05,519.00 L600.28,518.79 L601.50,518.56 L602.71,518.30 L603.91,517.99 L605.09,517.65 L606.25,517.26 L607.39,516.81 L608.51,516.31 L609.60,515.75 L610.65,515.13 L611.68,514.44 L612.67,513.71 L613.64,512.92 L614.57,512.09 L615.47,511.21 L616.33,510.30 L617.16,509.34 L617.95,508.36 L618.71,507.35 L619.43,506.32 L620.11,505.26 L620.75,504.19 L621.36,503.11 L621.93,502.01 L622.46,500.90 L622.97,499.78 L623.44,498.65 L623.89,497.51 L624.31,496.36 L624.71,495.20 L625.09,494.03 L625.45,492.86 L625.80,491.67 L626.14,490.48 L626.46,489.29 L626.76,488.09 L627.06,486.88 L627.35,485.67 L627.63,484.46 L627.89,483.25 L628.16,482.03 L628.41,480.81 L628.66,479.60 L628.90,478.38 L629.14,477.16 L629.37,475.94 L629.60,474.72 L629.82,473.50 L630.03,472.27 L630.24,471.05 L630.44,469.83 L630.64,468.60 L630.84,467.38 L631.03,466.15 L631.22,464.93 L631.40,463.70 L631.58,462.47 L631.76,461.24 L631.93,460.02 L632.10,458.79 L632.27,457.56 L632.43,456.33 L632.59,455.10 L632.75,453.87 L632.90,452.64 L633.06,451.41 L633.21,450.18 L633.36,448.95 L633.51,447.72 L633.66,446.49 L633.80,445.26 L633.95,444.03 L634.09,442.80 L634.24,441.57 L634.38,440.34 L634.52,439.11 L634.66,437.88 L634.80,436.65 L634.94,435.42 L635.08,434.18 L635.21,432.95 L635.35,431.72 L635.48,430.49 L635.62,429.26 L635.75,428.03 L635.88,426.80 L636.02,425.57 L636.15,424.34 L636.28,423.10 L636.41,421.87 L636.54,420.64 L636.67,419.41 L636.79,418.18 L636.92,416.95 L637.05,415.72 L637.18,414.48 L637.30,413.25 L637.43,412.02 L637.55,410.79 L637.68,409.56 L637.80,408.33 L637.93,407.09 L638.05,405.86 L638.18,404.63 L638.30,403.40 L638.42,402.17 L638.55,400.93 L638.67,399.70 L638.79,398.47 L638.91,397.24 L639.03,396.01 L639.16,394.77 L639.28,393.54 L639.40,392.31 L639.52,391.08 L639.64,389.84 L639.77,388.61 L639.89,387.38 L640.01,386.14 L640.13,384.91 L640.25,383.68 L640.38,382.45 L640.50,381.21 L640.62,379.98 L640.74,378.75 L640.87,377.51 L640.99,376.28 L641.11,375.05 L641.24,373.81 L641.36,372.58 L641.49,371.34 L641.61,370.11 L641.74,368.88 L641.86,367.64 L641.99,366.41 L642.12,365.18 L642.24,363.94 L642.37,362.71 L642.50,361.47 L642.63,360.24 L642.76,359.00 L642.89,357.77 L643.02,356.54 L643.15,355.30 L643.28,354.07 L643.41,352.83 L643.55,351.60 L643.68,350.36 L643.81,349.13 L643.95,347.89 L644.09,346.66 L644.22,345.42 L644.36,344.19 L644.50,342.95 L644.64,341.71 L644.79,340.48 L644.94,339.25 L645.10,338.02 L645.27,336.79 L645.45,335.56 L645.65,334.34 L645.86,333.12 L646.09,331.90 L646.33,330.69 L646.60,329.49 L646.88,328.29 L647.20,327.09 L647.53,325.90 L647.90,324.72 L648.29,323.55 L648.71,322.38 L649.17,321.22 L649.66,320.07 L650.20,318.96 L650.85,318.23 L651.71,318.40 L652.57,319.26 L653.17,320.38 L653.57,321.61 L653.90,322.87 L654.20,324.12 L654.48,325.37 L654.75,326.62 L654.99,327.86 L655.22,329.10 L655.44,330.33 L655.64,331.56 L655.83,332.79 L656.01,334.02 L656.18,335.25 L656.34,336.47 L656.49,337.69 L656.63,338.91 L656.76,340.13 L656.89,341.36 L657.02,342.58 L657.14,343.80 L657.26,345.02 L657.37,346.25 L657.49,347.47 L657.60,348.70 L657.71,349.93 L657.82,351.16 L657.92,352.39 L658.03,353.62 L658.13,354.85 L658.23,356.08 L658.33,357.31 L658.43,358.55 L658.52,359.78 L658.62,361.02 L658.71,362.25 L658.80,363.49 L658.89,364.73 L658.98,365.96 L659.07,367.20 L659.16,368.44 L659.24,369.68 L659.33,370.92 L659.41,372.16 L659.50,373.40 L659.58,374.64 L659.66,375.88 L659.74,377.12 L659.82,378.36 L659.90,379.60 L659.98,380.84 L660.06,382.08 L660.14,383.33 L660.22,384.57 L660.30,385.81 L660.38,387.05 L660.46,388.29 L660.54,389.53 L660.62,390.77 L660.70,392.01 L660.78,393.25 L660.86,394.49 L660.94,395.73 L661.02,396.97 L661.10,398.21 L661.18,399.45 L661.26,400.68 L661.34,401.92 L661.43,403.16 L661.51,404.40 L661.59,405.63 L661.68,406.87 L661.76,408.10 L661.85,409.34 L661.94,410.57 L662.02,411.81 L662.11,413.04 L662.20,414.28 L662.29,415.51 L662.38,416.75 L662.47,417.98 L662.56,419.21 L662.65,420.45 L662.74,421.68 L662.83,422.91 L662.93,424.15 L663.02,425.38 L663.12,426.61 L663.21,427.84 L663.31,429.07 L663.41,430.31 L663.51,431.54 L663.60,432.77 L663.70,434.00 L663.81,435.23 L663.91,436.46 L664.01,437.69 L664.11,438.93 L664.22,440.16 L664.32,441.39 L664.43,442.62 L664.54,443.85 L664.64,445.08 L664.75,446.31 L664.86,447.54 L664.98,448.78 L665.09,450.01 L665.20,451.24 L665.32,452.47 L665.43,453.70 L665.55,454.93 L665.67,456.16 L665.78,457.40 L665.90,458.63 L666.03,459.86 L666.15,461.09 L666.27,462.32 L666.40,463.56 L666.52,464.79 L666.65,466.02 L666.78,467.25 L666.91,468.49 L667.04,469.72 L667.17,470.95 L667.30,472.19 L667.44,473.42 L667.57,474.66 L667.71,475.89 L667.85,477.12 L667.99,478.36 L668.13,479.60 L668.27,480.83 L668.42,482.07 L668.56,483.30 L668.71,484.54 L668.86,485.78 L669.01,487.01 L669.16,488.25 L669.31,489.49 L669.46,490.73 L669.62,491.97 L669.78,493.21 L669.93,494.44 L670.10,495.68 L670.26,496.92 L670.42,498.17 L670.59,499.41 L670.75,500.65 L670.92,501.89 L671.09,503.13 L671.27,504.37 L671.46,505.61 L671.67,506.83 L671.91,508.05 L672.19,509.24 L672.50,510.42 L672.87,511.57 L673.29,512.70 L673.77,513.80 L674.32,514.86 L674.94,515.89 L675.65,516.87 L676.45,517.81 L677.35,518.70 L678.35,519.45 L679.47,519.97 L680.72,520.16 L682.09,519.98 L683.42,519.83 L684.51,520.26" fill="none" stroke="#0000ff" stroke-width="2.00"/>
<path d="M47.50,234.50V231.50 M47.50,28.50V31.50 M102.50,234.50V231.50 M102.50,28.50V31.50 M157.50,234.50V231.50 M157.50,28.50V31.50 M212.50,234.50V231.50 M212.50,28.50V31.50 M267.50,234.50V231.50 M267.50,28.50V31.50 M322.50,234.50V231.50 M322.50,28.50V31.50 M47.50,234.50H50.50 M322.50,234.50H319.50 M47.50,165.83H50.50 M322.50,165.83H319.50 M47.50,97.17H50.50 M322.50,97.17H319.50 M47.50,28.50H50.50 M322.50,28.50H319.50" stroke="#262626" stroke-width="0.50" fill="none"/>
<rect x="47.50" y="28.50" width="275.00" height="206.00" fill="none" stroke="#262626" stroke-width="0.50"/>
<path d="M409.50,234.50V231.50 M409.50,28.50V31.50 M490.80,234.50V231.50 M490.80,28.50V31.50 M572.00,234.50V231.50 M572.00,28.50V31.50 M653.30,234.50V231.50 M653.30,28.50V31.50 M409.50,234.50H412.50 M684.50,234.50H681.50 M409.50,200.17H412.50 M684.50,200.17H681.50 M409.50,165.83H412.50 M684.50,165.83H681.50 M409.50,131.50H412.50 M684.50,131.50H681.50 M409.50,97.17H412.50 M684.50,97.17H681.50 M409.50,62.83H412.50 M684.50,62.83H681.50 M409.50,28.50H412.50 M684.50,28.50H681.50" stroke="#262626" stroke-width="0.50" fill="none"/>
<rect x="409.50" y="28.50" width="275.00" height="206.00" fill="none" stroke="#262626" stroke-width="0.50"/>
<path d="M47.50,520.50V517.50 M47.50,314.50V317.50 M102.50,520.50V517.50 M102.50,314.50V317.50 M157.50,520.50V517.50 M157.50,314.50V317.50 M212.50,520.50V517.50 M212.50,314.50V317.50 M267.50,520.50V517.50 M267.50,314.50V317.50 M322.50,520.50V517.50 M322.50,314.50V317.50 M47.50,520.50H50.50 M322.50,520.50H319.50 M47.50,451.83H50.50 M322.50,451.83H319.50 M47.50,383.17H50.50 M322.50,383.17H319.50 M47.50,314.50H50.50 M322.50,314.50H319.50" stroke="#262626" stroke-width="0.50" fill="none"/>
<rect x="47.50" y="314.50" width="275.00" height="206.00" fill="none" stroke="#262626" stroke-width="0.50"/>
<path d="M409.50,520.50V517.50 M409.50,314.50V317.50 M490.80,520.50V517.50 M490.80,314.50V317.50 M572.00,520.50V517.50 M572.00,314.50V317.50 M653.30,520.50V517.50 M653.30,314.50V317.50 M409.50,520.50H412.50 M684.50,520.50H681.50 M409.50,486.17H412.50 M684.50,486.17H681.50 M409.50,451.83H412.50 M684.50,451.83H681.50 M409.50,417.50H412.50 M684.50,417.50H681.50 M409.50,383.17H412.50 M684.50,383.17H681.50 M409.50,348.83H412.50 M684.50,348.83H681.50 M409.50,314.50H412.50 M684.50,314.50H681.50" stroke="#262626" stroke-width="0.50" fill="none"/>
<rect x="409.50" y="314.50" width="275.00" height="206.00" fill="none" stroke="#262626" stroke-width="0.50"/>
<rect x="197.30" y="36.50" width="117.90" height="71.70" fill="#fff" stroke="#262626" stroke-width="0.50"/>
<path d="M200.70,45.00H227.90" stroke="#ff0000" stroke-width="2.00" />
<text x="230.70" y="48.70" font-size="11.0" font-family="Liberation Sans, sans-serif" fill="#000">Stochastic</text>
<path d="M200.70,58.75H227.90" stroke="#0000ff" stroke-width="2.00" />
<text x="230.70" y="62.45" font-size="11.0" font-family="Liberation Sans, sans-serif" fill="#000">Lumping</text>
<path d="M200.70,72.00H227.90" stroke="#4dbeee" stroke-width="2.00" stroke-dasharray="7 7"/>
<text x="230.70" y="75.70" font-size="11.0" font-family="Liberation Sans, sans-serif" fill="#000">Homogeneous</text>
<path d="M200.70,85.90H227.90" stroke="#edb120" stroke-width="2.00" stroke-dasharray="1.6 2.2"/>
<text x="230.70" y="89.60" font-size="11.0" font-family="Liberation Sans, sans-serif" fill="#000">Heterogeneous</text>
<path d="M200.70,99.20H227.90" stroke="#999999" stroke-width="2.00" stroke-dasharray="6.7 2 3.4 2"/>
<text x="230.70" y="102.90" font-size="11.0" font-family="Liberation Sans, sans-serif" fill="#000">Individual based</text>
<rect x="197.30" y="321.50" width="117.90" height="71.70" fill="#fff" stroke="#262626" stroke-width="0.50"/>
<path d="M200.70,329.80H227.90" stroke="#ff0000" stroke-width="2.00" />
<text x="230.70" y="333.50" font-size="11.0" font-family="Liberation Sans, sans-serif" fill="#000">Stochastic</text>
<path d="M200.70,343.60H227.90" stroke="#0000ff" stroke-width="2.00" />
<text x="230.70" y="347.30" font-size="11.0" font-family="Liberation Sans, sans-serif" fill="#000">Lumping</text>
<path d="M200.70,357.00H227.90" stroke="#4dbeee" stroke-width="2.00" stroke-dasharray="7 7"/>
<text x="230.70" y="360.70" font-size="11.0" font-family="Liberation Sans, sans-serif" fill="#000">Homogeneous</text>
<path d="M200.70,370.80H227.90" stroke="#edb120" stroke-width="2.00" stroke-dasharray="1.6 2.2"/>
<text x="230.70" y="374.50" font-size="11.0" font-family="Liberation Sans, sans-serif" fill="#000">Heterogeneous</text>
<path d="M200.70,384.00H227.90" stroke="#999999" stroke-width="2.00" stroke-dasharray="6.7 2 3.4 2"/>
<text x="230.70" y="387.70" font-size="11.0" font-family="Liberation Sans, sans-serif" fill="#000">Individual based</text>
<rect x="416.50" y="36.60" width="143.00" height="30.00" fill="#fff" stroke="#262626" stroke-width="0.50"/>
<rect x="420.10" y="40.10" width="27.4" height="9.7" fill="#bfbfbf"/>
<text x="450.60" y="49.00" font-size="11.0" font-family="Liberation Sans, sans-serif" fill="#000">Stochastic simulation</text>
<path d="M420.10,58.50H447.50" stroke="#0000ff" stroke-width="2.00"/>
<text x="450.60" y="62.50" font-size="11.0" font-family="Liberation Sans, sans-serif" fill="#000">Population model</text>
<rect x="416.50" y="321.50" width="143.00" height="30.00" fill="#fff" stroke="#262626" stroke-width="0.50"/>
<rect x="420.10" y="325.00" width="27.4" height="9.7" fill="#bfbfbf"/>
<text x="450.60" y="333.90" font-size="11.0" font-family="Liberation Sans, sans-serif" fill="#000">Stochastic simulation</text>
<path d="M420.10,343.40H447.50" stroke="#0000ff" stroke-width="2.00"/>
<text x="450.60" y="347.40" font-size="11.0" font-family="Liberation Sans, sans-serif" fill="#000">Population model</text>
<text x="47.50" y="253.20" text-anchor="middle" font-size="14.0" font-family="Liberation Sans, sans-serif" fill="#262626">0</text>
<text x="102.50" y="253.20" text-anchor="middle" font-size="14.0" font-family="Liberation Sans, sans-serif" fill="#262626">2</text>
<text x="157.50" y="253.20" text-anchor="middle" font-size="14.0" font-family="Liberation Sans, sans-serif" fill="#262626">4</text>
<text x="212.50" y="253.20" text-anchor="middle" font-size="14.0" font-family="Liberation Sans, sans-serif" fill="#262626">6</text>
<text x="267.50" y="253.20" text-anchor="middle" font-size="14.0" font-family="Liberation Sans, sans-serif" fill="#262626">8</text>
<text x="322.50" y="253.20" text-anchor="middle" font-size="14.0" font-family="Liberation Sans, sans-serif" fill="#262626">10</text>
<text x="42.10" y="239.50" text-anchor="end" font-size="14.0" font-family="Liberation Sans, sans-serif" fill="#262626">0</text>
<text x="42.10" y="170.83" text-anchor="end" font-size="14.0" font-family="Liberation Sans, sans-serif" fill="#262626">50</text>
<text x="42.10" y="102.17" text-anchor="end" font-size="14.0" font-family="Liberation Sans, sans-serif" fill="#262626">100</text>
<text x="42.10" y="33.50" text-anchor="end" font-size="14.0" font-family="Liberation Sans, sans-serif" fill="#262626">150</text>
<text x="185.00" y="272.80" text-anchor="middle" font-size="16.2" font-family="Liberation Sans, sans-serif" fill="#262626">Time</text>
<text transform="translate(11.90,131.50) rotate(-90)" text-anchor="middle" font-size="16.2" font-family="Liberation Sans, sans-serif" fill="#262626">Number of infected</text>
<text transform="translate(168.50,13.60) scale(0.900,1)" text-anchor="middle" font-size="18.2" font-family="Liberation Sans, sans-serif" fill="#000">(a)</text>
<text x="409.50" y="253.20" text-anchor="middle" font-size="14.0" font-family="Liberation Sans, sans-serif" fill="#262626">200</text>
<text x="490.80" y="253.20" text-anchor="middle" font-size="14.0" font-family="Liberation Sans, sans-serif" fill="#262626">250</text>
<text x="572.00" y="253.20" text-anchor="middle" font-size="14.0" font-family="Liberation Sans, sans-serif" fill="#262626">300</text>
<text x="653.30" y="253.20" text-anchor="middle" font-size="14.0" font-family="Liberation Sans, sans-serif" fill="#262626">350</text>
<text x="404.10" y="239.50" text-anchor="end" font-size="14.0" font-family="Liberation Sans, sans-serif" fill="#262626">0</text>
<text x="404.10" y="205.17" text-anchor="end" font-size="14.0" font-family="Liberation Sans, sans-serif" fill="#262626">0.01</text>
<text x="404.10" y="170.83" text-anchor="end" font-size="14.0" font-family="Liberation Sans, sans-serif" fill="#262626">0.02</text>
<text x="404.10" y="136.50" text-anchor="end" font-size="14.0" font-family="Liberation Sans, sans-serif" fill="#262626">0.03</text>
<text x="404.10" y="102.17" text-anchor="end" font-size="14.0" font-family="Liberation Sans, sans-serif" fill="#262626">0.04</text>
<text x="404.10" y="67.83" text-anchor="end" font-size="14.0" font-family="Liberation Sans, sans-serif" fill="#262626">0.05</text>
<text x="404.10" y="33.50" text-anchor="end" font-size="14.0" font-family="Liberation Sans, sans-serif" fill="#262626">0.06</text>
<text x="547.00" y="272.80" text-anchor="middle" font-size="16.2" font-family="Liberation Sans, sans-serif" fill="#262626">Total infections</text>
<text transform="translate(369.70,131.50) rotate(-90)" text-anchor="middle" font-size="16.2" font-family="Liberation Sans, sans-serif" fill="#262626">Probability</text>
<text transform="translate(539.00,13.60) scale(1.000,1)" text-anchor="middle" font-size="18.2" font-family="Liberation Sans, sans-serif" fill="#000">(b)</text>
<text x="47.50" y="538.60" text-anchor="middle" font-size="14.0" font-family="Liberation Sans, sans-serif" fill="#262626">0</text>
<text x="102.50" y="538.60" text-anchor="middle" font-size="14.0" font-family="Liberation Sans, sans-serif" fill="#262626">2</text>
<text x="157.50" y="538.60" text-anchor="middle" font-size="14.0" font-family="Liberation Sans, sans-serif" fill="#262626">4</text>
<text x="212.50" y="538.60" text-anchor="middle" font-size="14.0" font-family="Liberation Sans, sans-serif" fill="#262626">6</text>
<text x="267.50" y="538.60" text-anchor="middle" font-size="14.0" font-family="Liberation Sans, sans-serif" fill="#262626">8</text>
<text x="322.50" y="538.60" text-anchor="middle" font-size="14.0" font-family="Liberation Sans, sans-serif" fill="#262626">10</text>
<text x="42.10" y="525.50" text-anchor="end" font-size="14.0" font-family="Liberation Sans, sans-serif" fill="#262626">0</text>
<text x="42.10" y="456.83" text-anchor="end" font-size="14.0" font-family="Liberation Sans, sans-serif" fill="#262626">50</text>
<text x="42.10" y="388.17" text-anchor="end" font-size="14.0" font-family="Liberation Sans, sans-serif" fill="#262626">100</text>
<text x="42.10" y="319.50" text-anchor="end" font-size="14.0" font-family="Liberation Sans, sans-serif" fill="#262626">150</text>
<text x="185.00" y="559.00" text-anchor="middle" font-size="16.2" font-family="Liberation Sans, sans-serif" fill="#262626">Time</text>
<text transform="translate(11.90,417.50) rotate(-90)" text-anchor="middle" font-size="16.2" font-family="Liberation Sans, sans-serif" fill="#262626">Number of infected</text>
<text transform="translate(168.50,302.20) scale(1.000,1)" text-anchor="middle" font-size="18.2" font-family="Liberation Sans, sans-serif" fill="#000">(c)</text>
<text x="409.50" y="538.60" text-anchor="middle" font-size="14.0" font-family="Liberation Sans, sans-serif" fill="#262626">200</text>
<text x="490.80" y="538.60" text-anchor="middle" font-size="14.0" font-family="Liberation Sans, sans-serif" fill="#262626">250</text>
<text x="572.00" y="538.60" text-anchor="middle" font-size="14.0" font-family="Liberation Sans, sans-serif" fill="#262626">300</text>
<text x="653.30" y="538.60" text-anchor="middle" font-size="14.0" font-family="Liberation Sans, sans-serif" fill="#262626">350</text>
<text x="404.10" y="525.50" text-anchor="end" font-size="14.0" font-family="Liberation Sans, sans-serif" fill="#262626">0</text>
<text x="404.10" y="491.17" text-anchor="end" font-size="14.0" font-family="Liberation Sans, sans-serif" fill="#262626">0.01</text>
<text x="404.10" y="456.83" text-anchor="end" font-size="14.0" font-family="Liberation Sans, sans-serif" fill="#262626">0.02</text>
<text x="404.10" y="422.50" text-anchor="end" font-size="14.0" font-family="Liberation Sans, sans-serif" fill="#262626">0.03</text>
<text x="404.10" y="388.17" text-anchor="end" font-size="14.0" font-family="Liberation Sans, sans-serif" fill="#262626">0.04</text>
<text x="404.10" y="353.83" text-anchor="end" font-size="14.0" font-family="Liberation Sans, sans-serif" fill="#262626">0.05</text>
<text x="404.10" y="319.50" text-anchor="end" font-size="14.0" font-family="Liberation Sans, sans-serif" fill="#262626">0.06</text>
<text x="547.00" y="559.00" text-anchor="middle" font-size="16.2" font-family="Liberation Sans, sans-serif" fill="#262626">Total infections</text>
<text transform="translate(369.70,417.50) rotate(-90)" text-anchor="middle" font-size="16.2" font-family="Liberation Sans, sans-serif" fill="#262626">Probability</text>
<text transform="translate(539.00,302.00) scale(1.000,1)" text-anchor="middle" font-size="18.2" font-family="Liberation Sans, sans-serif" fill="#000">(d)</text>
</svg></body></html>
